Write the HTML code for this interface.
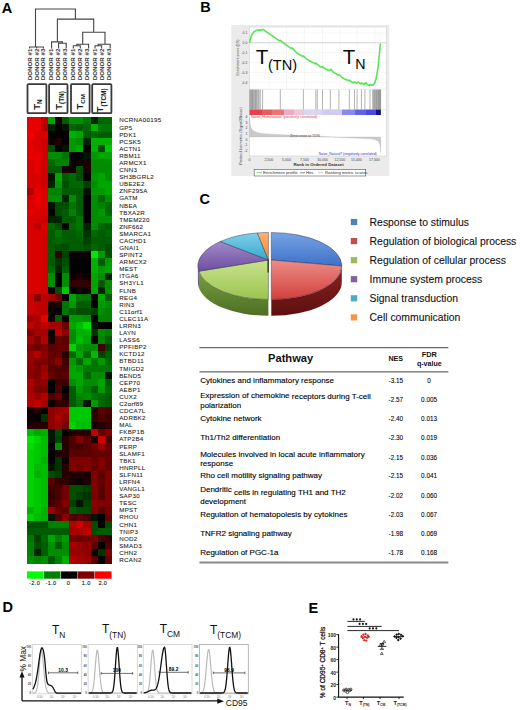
<!DOCTYPE html>
<html><head><meta charset="utf-8"><style>
html,body{margin:0;padding:0;background:#fff;width:520px;height:710px;overflow:hidden}
svg{display:block}
body{font-family:"Liberation Sans",sans-serif}
</style></head><body>
<svg width="520" height="710" viewBox="0 0 520 710" style="font-family:'Liberation Sans',sans-serif">
<rect width="520" height="710" fill="#fff"/>
<g shape-rendering="crispEdges">
<rect x="27.00" y="116.70" width="7.36" height="7.39" fill="rgb(230,0,0)"/>
<rect x="34.06" y="116.70" width="7.36" height="7.39" fill="rgb(230,0,0)"/>
<rect x="41.12" y="116.70" width="7.36" height="7.39" fill="rgb(191,0,0)"/>
<rect x="48.17" y="116.70" width="7.36" height="7.39" fill="rgb(0,165,0)"/>
<rect x="55.23" y="116.70" width="7.36" height="7.39" fill="rgb(26,0,0)"/>
<rect x="62.29" y="116.70" width="7.36" height="7.39" fill="rgb(0,92,0)"/>
<rect x="69.35" y="116.70" width="7.36" height="7.39" fill="rgb(0,141,0)"/>
<rect x="76.41" y="116.70" width="7.36" height="7.39" fill="rgb(0,141,0)"/>
<rect x="83.47" y="116.70" width="7.36" height="7.39" fill="rgb(0,117,0)"/>
<rect x="90.53" y="116.70" width="7.36" height="7.39" fill="rgb(0,36,0)"/>
<rect x="97.58" y="116.70" width="7.36" height="7.39" fill="rgb(0,104,0)"/>
<rect x="104.64" y="116.70" width="7.36" height="7.39" fill="rgb(0,104,0)"/>
<rect x="27.00" y="123.79" width="7.36" height="7.39" fill="rgb(230,0,0)"/>
<rect x="34.06" y="123.79" width="7.36" height="7.39" fill="rgb(230,0,0)"/>
<rect x="41.12" y="123.79" width="7.36" height="7.39" fill="rgb(178,0,0)"/>
<rect x="48.17" y="123.79" width="7.36" height="7.39" fill="rgb(0,36,0)"/>
<rect x="55.23" y="123.79" width="7.36" height="7.39" fill="rgb(0,0,0)"/>
<rect x="62.29" y="123.79" width="7.36" height="7.39" fill="rgb(0,20,0)"/>
<rect x="69.35" y="123.79" width="7.36" height="7.39" fill="rgb(0,104,0)"/>
<rect x="76.41" y="123.79" width="7.36" height="7.39" fill="rgb(0,92,0)"/>
<rect x="83.47" y="123.79" width="7.36" height="7.39" fill="rgb(0,104,0)"/>
<rect x="90.53" y="123.79" width="7.36" height="7.39" fill="rgb(0,177,0)"/>
<rect x="97.58" y="123.79" width="7.36" height="7.39" fill="rgb(0,117,0)"/>
<rect x="104.64" y="123.79" width="7.36" height="7.39" fill="rgb(0,117,0)"/>
<rect x="27.00" y="130.88" width="7.36" height="7.39" fill="rgb(242,0,0)"/>
<rect x="34.06" y="130.88" width="7.36" height="7.39" fill="rgb(217,0,0)"/>
<rect x="41.12" y="130.88" width="7.36" height="7.39" fill="rgb(217,0,0)"/>
<rect x="48.17" y="130.88" width="7.36" height="7.39" fill="rgb(0,0,0)"/>
<rect x="55.23" y="130.88" width="7.36" height="7.39" fill="rgb(0,0,0)"/>
<rect x="62.29" y="130.88" width="7.36" height="7.39" fill="rgb(0,0,0)"/>
<rect x="69.35" y="130.88" width="7.36" height="7.39" fill="rgb(0,177,0)"/>
<rect x="76.41" y="130.88" width="7.36" height="7.39" fill="rgb(0,165,0)"/>
<rect x="83.47" y="130.88" width="7.36" height="7.39" fill="rgb(0,92,0)"/>
<rect x="90.53" y="130.88" width="7.36" height="7.39" fill="rgb(0,104,0)"/>
<rect x="97.58" y="130.88" width="7.36" height="7.39" fill="rgb(0,92,0)"/>
<rect x="104.64" y="130.88" width="7.36" height="7.39" fill="rgb(0,92,0)"/>
<rect x="27.00" y="137.97" width="7.36" height="7.39" fill="rgb(230,0,0)"/>
<rect x="34.06" y="137.97" width="7.36" height="7.39" fill="rgb(217,0,0)"/>
<rect x="41.12" y="137.97" width="7.36" height="7.39" fill="rgb(204,0,0)"/>
<rect x="48.17" y="137.97" width="7.36" height="7.39" fill="rgb(13,0,0)"/>
<rect x="55.23" y="137.97" width="7.36" height="7.39" fill="rgb(38,0,0)"/>
<rect x="62.29" y="137.97" width="7.36" height="7.39" fill="rgb(0,0,0)"/>
<rect x="69.35" y="137.97" width="7.36" height="7.39" fill="rgb(0,153,0)"/>
<rect x="76.41" y="137.97" width="7.36" height="7.39" fill="rgb(0,141,0)"/>
<rect x="83.47" y="137.97" width="7.36" height="7.39" fill="rgb(0,36,0)"/>
<rect x="90.53" y="137.97" width="7.36" height="7.39" fill="rgb(0,177,0)"/>
<rect x="97.58" y="137.97" width="7.36" height="7.39" fill="rgb(0,177,0)"/>
<rect x="104.64" y="137.97" width="7.36" height="7.39" fill="rgb(0,177,0)"/>
<rect x="27.00" y="145.06" width="7.36" height="7.39" fill="rgb(230,0,0)"/>
<rect x="34.06" y="145.06" width="7.36" height="7.39" fill="rgb(217,0,0)"/>
<rect x="41.12" y="145.06" width="7.36" height="7.39" fill="rgb(204,0,0)"/>
<rect x="48.17" y="145.06" width="7.36" height="7.39" fill="rgb(0,78,0)"/>
<rect x="55.23" y="145.06" width="7.36" height="7.39" fill="rgb(0,0,0)"/>
<rect x="62.29" y="145.06" width="7.36" height="7.39" fill="rgb(0,20,0)"/>
<rect x="69.35" y="145.06" width="7.36" height="7.39" fill="rgb(0,153,0)"/>
<rect x="76.41" y="145.06" width="7.36" height="7.39" fill="rgb(0,165,0)"/>
<rect x="83.47" y="145.06" width="7.36" height="7.39" fill="rgb(0,0,0)"/>
<rect x="90.53" y="145.06" width="7.36" height="7.39" fill="rgb(0,177,0)"/>
<rect x="97.58" y="145.06" width="7.36" height="7.39" fill="rgb(0,78,0)"/>
<rect x="104.64" y="145.06" width="7.36" height="7.39" fill="rgb(0,200,0)"/>
<rect x="27.00" y="152.14" width="7.36" height="7.39" fill="rgb(230,0,0)"/>
<rect x="34.06" y="152.14" width="7.36" height="7.39" fill="rgb(230,0,0)"/>
<rect x="41.12" y="152.14" width="7.36" height="7.39" fill="rgb(204,0,0)"/>
<rect x="48.17" y="152.14" width="7.36" height="7.39" fill="rgb(0,141,0)"/>
<rect x="55.23" y="152.14" width="7.36" height="7.39" fill="rgb(0,141,0)"/>
<rect x="62.29" y="152.14" width="7.36" height="7.39" fill="rgb(0,117,0)"/>
<rect x="69.35" y="152.14" width="7.36" height="7.39" fill="rgb(0,0,0)"/>
<rect x="76.41" y="152.14" width="7.36" height="7.39" fill="rgb(0,0,0)"/>
<rect x="83.47" y="152.14" width="7.36" height="7.39" fill="rgb(0,20,0)"/>
<rect x="90.53" y="152.14" width="7.36" height="7.39" fill="rgb(0,153,0)"/>
<rect x="97.58" y="152.14" width="7.36" height="7.39" fill="rgb(0,165,0)"/>
<rect x="104.64" y="152.14" width="7.36" height="7.39" fill="rgb(0,165,0)"/>
<rect x="27.00" y="159.23" width="7.36" height="7.39" fill="rgb(217,0,0)"/>
<rect x="34.06" y="159.23" width="7.36" height="7.39" fill="rgb(230,0,0)"/>
<rect x="41.12" y="159.23" width="7.36" height="7.39" fill="rgb(204,0,0)"/>
<rect x="48.17" y="159.23" width="7.36" height="7.39" fill="rgb(0,104,0)"/>
<rect x="55.23" y="159.23" width="7.36" height="7.39" fill="rgb(0,129,0)"/>
<rect x="62.29" y="159.23" width="7.36" height="7.39" fill="rgb(0,129,0)"/>
<rect x="69.35" y="159.23" width="7.36" height="7.39" fill="rgb(13,0,0)"/>
<rect x="76.41" y="159.23" width="7.36" height="7.39" fill="rgb(13,0,0)"/>
<rect x="83.47" y="159.23" width="7.36" height="7.39" fill="rgb(26,0,0)"/>
<rect x="90.53" y="159.23" width="7.36" height="7.39" fill="rgb(0,141,0)"/>
<rect x="97.58" y="159.23" width="7.36" height="7.39" fill="rgb(0,141,0)"/>
<rect x="104.64" y="159.23" width="7.36" height="7.39" fill="rgb(0,141,0)"/>
<rect x="27.00" y="166.32" width="7.36" height="7.39" fill="rgb(217,0,0)"/>
<rect x="34.06" y="166.32" width="7.36" height="7.39" fill="rgb(230,0,0)"/>
<rect x="41.12" y="166.32" width="7.36" height="7.39" fill="rgb(204,0,0)"/>
<rect x="48.17" y="166.32" width="7.36" height="7.39" fill="rgb(0,92,0)"/>
<rect x="55.23" y="166.32" width="7.36" height="7.39" fill="rgb(0,92,0)"/>
<rect x="62.29" y="166.32" width="7.36" height="7.39" fill="rgb(26,0,0)"/>
<rect x="69.35" y="166.32" width="7.36" height="7.39" fill="rgb(13,0,0)"/>
<rect x="76.41" y="166.32" width="7.36" height="7.39" fill="rgb(0,78,0)"/>
<rect x="83.47" y="166.32" width="7.36" height="7.39" fill="rgb(26,0,0)"/>
<rect x="90.53" y="166.32" width="7.36" height="7.39" fill="rgb(0,141,0)"/>
<rect x="97.58" y="166.32" width="7.36" height="7.39" fill="rgb(0,141,0)"/>
<rect x="104.64" y="166.32" width="7.36" height="7.39" fill="rgb(0,141,0)"/>
<rect x="27.00" y="173.41" width="7.36" height="7.39" fill="rgb(217,0,0)"/>
<rect x="34.06" y="173.41" width="7.36" height="7.39" fill="rgb(217,0,0)"/>
<rect x="41.12" y="173.41" width="7.36" height="7.39" fill="rgb(204,0,0)"/>
<rect x="48.17" y="173.41" width="7.36" height="7.39" fill="rgb(0,20,0)"/>
<rect x="55.23" y="173.41" width="7.36" height="7.39" fill="rgb(0,165,0)"/>
<rect x="62.29" y="173.41" width="7.36" height="7.39" fill="rgb(0,92,0)"/>
<rect x="69.35" y="173.41" width="7.36" height="7.39" fill="rgb(0,104,0)"/>
<rect x="76.41" y="173.41" width="7.36" height="7.39" fill="rgb(0,78,0)"/>
<rect x="83.47" y="173.41" width="7.36" height="7.39" fill="rgb(0,0,0)"/>
<rect x="90.53" y="173.41" width="7.36" height="7.39" fill="rgb(0,153,0)"/>
<rect x="97.58" y="173.41" width="7.36" height="7.39" fill="rgb(0,165,0)"/>
<rect x="104.64" y="173.41" width="7.36" height="7.39" fill="rgb(0,141,0)"/>
<rect x="27.00" y="180.50" width="7.36" height="7.39" fill="rgb(217,0,0)"/>
<rect x="34.06" y="180.50" width="7.36" height="7.39" fill="rgb(217,0,0)"/>
<rect x="41.12" y="180.50" width="7.36" height="7.39" fill="rgb(204,0,0)"/>
<rect x="48.17" y="180.50" width="7.36" height="7.39" fill="rgb(0,36,0)"/>
<rect x="55.23" y="180.50" width="7.36" height="7.39" fill="rgb(0,153,0)"/>
<rect x="62.29" y="180.50" width="7.36" height="7.39" fill="rgb(0,78,0)"/>
<rect x="69.35" y="180.50" width="7.36" height="7.39" fill="rgb(0,104,0)"/>
<rect x="76.41" y="180.50" width="7.36" height="7.39" fill="rgb(0,104,0)"/>
<rect x="83.47" y="180.50" width="7.36" height="7.39" fill="rgb(0,65,0)"/>
<rect x="90.53" y="180.50" width="7.36" height="7.39" fill="rgb(0,141,0)"/>
<rect x="97.58" y="180.50" width="7.36" height="7.39" fill="rgb(0,165,0)"/>
<rect x="104.64" y="180.50" width="7.36" height="7.39" fill="rgb(0,165,0)"/>
<rect x="27.00" y="187.59" width="7.36" height="7.39" fill="rgb(166,0,0)"/>
<rect x="34.06" y="187.59" width="7.36" height="7.39" fill="rgb(230,0,0)"/>
<rect x="41.12" y="187.59" width="7.36" height="7.39" fill="rgb(217,0,0)"/>
<rect x="48.17" y="187.59" width="7.36" height="7.39" fill="rgb(0,129,0)"/>
<rect x="55.23" y="187.59" width="7.36" height="7.39" fill="rgb(0,129,0)"/>
<rect x="62.29" y="187.59" width="7.36" height="7.39" fill="rgb(0,92,0)"/>
<rect x="69.35" y="187.59" width="7.36" height="7.39" fill="rgb(0,92,0)"/>
<rect x="76.41" y="187.59" width="7.36" height="7.39" fill="rgb(0,92,0)"/>
<rect x="83.47" y="187.59" width="7.36" height="7.39" fill="rgb(0,20,0)"/>
<rect x="90.53" y="187.59" width="7.36" height="7.39" fill="rgb(0,153,0)"/>
<rect x="97.58" y="187.59" width="7.36" height="7.39" fill="rgb(0,153,0)"/>
<rect x="104.64" y="187.59" width="7.36" height="7.39" fill="rgb(0,165,0)"/>
<rect x="27.00" y="194.68" width="7.36" height="7.39" fill="rgb(217,0,0)"/>
<rect x="34.06" y="194.68" width="7.36" height="7.39" fill="rgb(230,0,0)"/>
<rect x="41.12" y="194.68" width="7.36" height="7.39" fill="rgb(217,0,0)"/>
<rect x="48.17" y="194.68" width="7.36" height="7.39" fill="rgb(0,141,0)"/>
<rect x="55.23" y="194.68" width="7.36" height="7.39" fill="rgb(0,141,0)"/>
<rect x="62.29" y="194.68" width="7.36" height="7.39" fill="rgb(0,36,0)"/>
<rect x="69.35" y="194.68" width="7.36" height="7.39" fill="rgb(0,141,0)"/>
<rect x="76.41" y="194.68" width="7.36" height="7.39" fill="rgb(0,92,0)"/>
<rect x="83.47" y="194.68" width="7.36" height="7.39" fill="rgb(0,0,0)"/>
<rect x="90.53" y="194.68" width="7.36" height="7.39" fill="rgb(0,141,0)"/>
<rect x="97.58" y="194.68" width="7.36" height="7.39" fill="rgb(0,104,0)"/>
<rect x="104.64" y="194.68" width="7.36" height="7.39" fill="rgb(0,141,0)"/>
<rect x="27.00" y="201.77" width="7.36" height="7.39" fill="rgb(217,0,0)"/>
<rect x="34.06" y="201.77" width="7.36" height="7.39" fill="rgb(230,0,0)"/>
<rect x="41.12" y="201.77" width="7.36" height="7.39" fill="rgb(217,0,0)"/>
<rect x="48.17" y="201.77" width="7.36" height="7.39" fill="rgb(0,20,0)"/>
<rect x="55.23" y="201.77" width="7.36" height="7.39" fill="rgb(0,78,0)"/>
<rect x="62.29" y="201.77" width="7.36" height="7.39" fill="rgb(0,78,0)"/>
<rect x="69.35" y="201.77" width="7.36" height="7.39" fill="rgb(0,117,0)"/>
<rect x="76.41" y="201.77" width="7.36" height="7.39" fill="rgb(0,92,0)"/>
<rect x="83.47" y="201.77" width="7.36" height="7.39" fill="rgb(0,0,0)"/>
<rect x="90.53" y="201.77" width="7.36" height="7.39" fill="rgb(0,141,0)"/>
<rect x="97.58" y="201.77" width="7.36" height="7.39" fill="rgb(0,129,0)"/>
<rect x="104.64" y="201.77" width="7.36" height="7.39" fill="rgb(0,104,0)"/>
<rect x="27.00" y="208.86" width="7.36" height="7.39" fill="rgb(230,0,0)"/>
<rect x="34.06" y="208.86" width="7.36" height="7.39" fill="rgb(217,0,0)"/>
<rect x="41.12" y="208.86" width="7.36" height="7.39" fill="rgb(217,0,0)"/>
<rect x="48.17" y="208.86" width="7.36" height="7.39" fill="rgb(0,0,0)"/>
<rect x="55.23" y="208.86" width="7.36" height="7.39" fill="rgb(0,78,0)"/>
<rect x="62.29" y="208.86" width="7.36" height="7.39" fill="rgb(0,92,0)"/>
<rect x="69.35" y="208.86" width="7.36" height="7.39" fill="rgb(0,129,0)"/>
<rect x="76.41" y="208.86" width="7.36" height="7.39" fill="rgb(0,92,0)"/>
<rect x="83.47" y="208.86" width="7.36" height="7.39" fill="rgb(0,0,0)"/>
<rect x="90.53" y="208.86" width="7.36" height="7.39" fill="rgb(0,141,0)"/>
<rect x="97.58" y="208.86" width="7.36" height="7.39" fill="rgb(0,153,0)"/>
<rect x="104.64" y="208.86" width="7.36" height="7.39" fill="rgb(0,104,0)"/>
<rect x="27.00" y="215.94" width="7.36" height="7.39" fill="rgb(217,0,0)"/>
<rect x="34.06" y="215.94" width="7.36" height="7.39" fill="rgb(217,0,0)"/>
<rect x="41.12" y="215.94" width="7.36" height="7.39" fill="rgb(204,0,0)"/>
<rect x="48.17" y="215.94" width="7.36" height="7.39" fill="rgb(0,36,0)"/>
<rect x="55.23" y="215.94" width="7.36" height="7.39" fill="rgb(0,36,0)"/>
<rect x="62.29" y="215.94" width="7.36" height="7.39" fill="rgb(0,92,0)"/>
<rect x="69.35" y="215.94" width="7.36" height="7.39" fill="rgb(0,92,0)"/>
<rect x="76.41" y="215.94" width="7.36" height="7.39" fill="rgb(0,117,0)"/>
<rect x="83.47" y="215.94" width="7.36" height="7.39" fill="rgb(0,0,0)"/>
<rect x="90.53" y="215.94" width="7.36" height="7.39" fill="rgb(0,141,0)"/>
<rect x="97.58" y="215.94" width="7.36" height="7.39" fill="rgb(0,141,0)"/>
<rect x="104.64" y="215.94" width="7.36" height="7.39" fill="rgb(0,141,0)"/>
<rect x="27.00" y="223.03" width="7.36" height="7.39" fill="rgb(217,0,0)"/>
<rect x="34.06" y="223.03" width="7.36" height="7.39" fill="rgb(191,0,0)"/>
<rect x="41.12" y="223.03" width="7.36" height="7.39" fill="rgb(217,0,0)"/>
<rect x="48.17" y="223.03" width="7.36" height="7.39" fill="rgb(0,104,0)"/>
<rect x="55.23" y="223.03" width="7.36" height="7.39" fill="rgb(0,78,0)"/>
<rect x="62.29" y="223.03" width="7.36" height="7.39" fill="rgb(0,0,0)"/>
<rect x="69.35" y="223.03" width="7.36" height="7.39" fill="rgb(0,104,0)"/>
<rect x="76.41" y="223.03" width="7.36" height="7.39" fill="rgb(0,117,0)"/>
<rect x="83.47" y="223.03" width="7.36" height="7.39" fill="rgb(0,36,0)"/>
<rect x="90.53" y="223.03" width="7.36" height="7.39" fill="rgb(0,141,0)"/>
<rect x="97.58" y="223.03" width="7.36" height="7.39" fill="rgb(0,104,0)"/>
<rect x="104.64" y="223.03" width="7.36" height="7.39" fill="rgb(0,92,0)"/>
<rect x="27.00" y="230.12" width="7.36" height="7.39" fill="rgb(217,0,0)"/>
<rect x="34.06" y="230.12" width="7.36" height="7.39" fill="rgb(217,0,0)"/>
<rect x="41.12" y="230.12" width="7.36" height="7.39" fill="rgb(204,0,0)"/>
<rect x="48.17" y="230.12" width="7.36" height="7.39" fill="rgb(0,92,0)"/>
<rect x="55.23" y="230.12" width="7.36" height="7.39" fill="rgb(0,117,0)"/>
<rect x="62.29" y="230.12" width="7.36" height="7.39" fill="rgb(0,92,0)"/>
<rect x="69.35" y="230.12" width="7.36" height="7.39" fill="rgb(0,92,0)"/>
<rect x="76.41" y="230.12" width="7.36" height="7.39" fill="rgb(0,104,0)"/>
<rect x="83.47" y="230.12" width="7.36" height="7.39" fill="rgb(0,51,0)"/>
<rect x="90.53" y="230.12" width="7.36" height="7.39" fill="rgb(0,104,0)"/>
<rect x="97.58" y="230.12" width="7.36" height="7.39" fill="rgb(0,92,0)"/>
<rect x="104.64" y="230.12" width="7.36" height="7.39" fill="rgb(0,104,0)"/>
<rect x="27.00" y="237.21" width="7.36" height="7.39" fill="rgb(217,0,0)"/>
<rect x="34.06" y="237.21" width="7.36" height="7.39" fill="rgb(217,0,0)"/>
<rect x="41.12" y="237.21" width="7.36" height="7.39" fill="rgb(204,0,0)"/>
<rect x="48.17" y="237.21" width="7.36" height="7.39" fill="rgb(0,92,0)"/>
<rect x="55.23" y="237.21" width="7.36" height="7.39" fill="rgb(0,104,0)"/>
<rect x="62.29" y="237.21" width="7.36" height="7.39" fill="rgb(0,92,0)"/>
<rect x="69.35" y="237.21" width="7.36" height="7.39" fill="rgb(0,92,0)"/>
<rect x="76.41" y="237.21" width="7.36" height="7.39" fill="rgb(0,92,0)"/>
<rect x="83.47" y="237.21" width="7.36" height="7.39" fill="rgb(0,65,0)"/>
<rect x="90.53" y="237.21" width="7.36" height="7.39" fill="rgb(0,92,0)"/>
<rect x="97.58" y="237.21" width="7.36" height="7.39" fill="rgb(0,92,0)"/>
<rect x="104.64" y="237.21" width="7.36" height="7.39" fill="rgb(0,92,0)"/>
<rect x="27.00" y="244.30" width="7.36" height="7.39" fill="rgb(217,0,0)"/>
<rect x="34.06" y="244.30" width="7.36" height="7.39" fill="rgb(217,0,0)"/>
<rect x="41.12" y="244.30" width="7.36" height="7.39" fill="rgb(204,0,0)"/>
<rect x="48.17" y="244.30" width="7.36" height="7.39" fill="rgb(0,92,0)"/>
<rect x="55.23" y="244.30" width="7.36" height="7.39" fill="rgb(0,78,0)"/>
<rect x="62.29" y="244.30" width="7.36" height="7.39" fill="rgb(0,78,0)"/>
<rect x="69.35" y="244.30" width="7.36" height="7.39" fill="rgb(0,92,0)"/>
<rect x="76.41" y="244.30" width="7.36" height="7.39" fill="rgb(0,92,0)"/>
<rect x="83.47" y="244.30" width="7.36" height="7.39" fill="rgb(0,78,0)"/>
<rect x="90.53" y="244.30" width="7.36" height="7.39" fill="rgb(0,104,0)"/>
<rect x="97.58" y="244.30" width="7.36" height="7.39" fill="rgb(0,92,0)"/>
<rect x="104.64" y="244.30" width="7.36" height="7.39" fill="rgb(0,78,0)"/>
<rect x="27.00" y="251.39" width="7.36" height="7.39" fill="rgb(217,0,0)"/>
<rect x="34.06" y="251.39" width="7.36" height="7.39" fill="rgb(217,0,0)"/>
<rect x="41.12" y="251.39" width="7.36" height="7.39" fill="rgb(204,0,0)"/>
<rect x="48.17" y="251.39" width="7.36" height="7.39" fill="rgb(0,92,0)"/>
<rect x="55.23" y="251.39" width="7.36" height="7.39" fill="rgb(51,0,0)"/>
<rect x="62.29" y="251.39" width="7.36" height="7.39" fill="rgb(0,65,0)"/>
<rect x="69.35" y="251.39" width="7.36" height="7.39" fill="rgb(13,0,0)"/>
<rect x="76.41" y="251.39" width="7.36" height="7.39" fill="rgb(13,0,0)"/>
<rect x="83.47" y="251.39" width="7.36" height="7.39" fill="rgb(13,0,0)"/>
<rect x="90.53" y="251.39" width="7.36" height="7.39" fill="rgb(0,233,0)"/>
<rect x="97.58" y="251.39" width="7.36" height="7.39" fill="rgb(0,153,0)"/>
<rect x="104.64" y="251.39" width="7.36" height="7.39" fill="rgb(0,78,0)"/>
<rect x="27.00" y="258.48" width="7.36" height="7.39" fill="rgb(217,0,0)"/>
<rect x="34.06" y="258.48" width="7.36" height="7.39" fill="rgb(217,0,0)"/>
<rect x="41.12" y="258.48" width="7.36" height="7.39" fill="rgb(204,0,0)"/>
<rect x="48.17" y="258.48" width="7.36" height="7.39" fill="rgb(0,92,0)"/>
<rect x="55.23" y="258.48" width="7.36" height="7.39" fill="rgb(0,51,0)"/>
<rect x="62.29" y="258.48" width="7.36" height="7.39" fill="rgb(0,78,0)"/>
<rect x="69.35" y="258.48" width="7.36" height="7.39" fill="rgb(0,0,0)"/>
<rect x="76.41" y="258.48" width="7.36" height="7.39" fill="rgb(0,0,0)"/>
<rect x="83.47" y="258.48" width="7.36" height="7.39" fill="rgb(0,0,0)"/>
<rect x="90.53" y="258.48" width="7.36" height="7.39" fill="rgb(0,177,0)"/>
<rect x="97.58" y="258.48" width="7.36" height="7.39" fill="rgb(0,92,0)"/>
<rect x="104.64" y="258.48" width="7.36" height="7.39" fill="rgb(0,153,0)"/>
<rect x="27.00" y="265.57" width="7.36" height="7.39" fill="rgb(217,0,0)"/>
<rect x="34.06" y="265.57" width="7.36" height="7.39" fill="rgb(217,0,0)"/>
<rect x="41.12" y="265.57" width="7.36" height="7.39" fill="rgb(204,0,0)"/>
<rect x="48.17" y="265.57" width="7.36" height="7.39" fill="rgb(0,104,0)"/>
<rect x="55.23" y="265.57" width="7.36" height="7.39" fill="rgb(0,36,0)"/>
<rect x="62.29" y="265.57" width="7.36" height="7.39" fill="rgb(0,92,0)"/>
<rect x="69.35" y="265.57" width="7.36" height="7.39" fill="rgb(0,0,0)"/>
<rect x="76.41" y="265.57" width="7.36" height="7.39" fill="rgb(0,0,0)"/>
<rect x="83.47" y="265.57" width="7.36" height="7.39" fill="rgb(0,0,0)"/>
<rect x="90.53" y="265.57" width="7.36" height="7.39" fill="rgb(0,177,0)"/>
<rect x="97.58" y="265.57" width="7.36" height="7.39" fill="rgb(0,153,0)"/>
<rect x="104.64" y="265.57" width="7.36" height="7.39" fill="rgb(0,165,0)"/>
<rect x="27.00" y="272.66" width="7.36" height="7.39" fill="rgb(217,0,0)"/>
<rect x="34.06" y="272.66" width="7.36" height="7.39" fill="rgb(217,0,0)"/>
<rect x="41.12" y="272.66" width="7.36" height="7.39" fill="rgb(204,0,0)"/>
<rect x="48.17" y="272.66" width="7.36" height="7.39" fill="rgb(0,141,0)"/>
<rect x="55.23" y="272.66" width="7.36" height="7.39" fill="rgb(0,0,0)"/>
<rect x="62.29" y="272.66" width="7.36" height="7.39" fill="rgb(0,141,0)"/>
<rect x="69.35" y="272.66" width="7.36" height="7.39" fill="rgb(13,0,0)"/>
<rect x="76.41" y="272.66" width="7.36" height="7.39" fill="rgb(26,0,0)"/>
<rect x="83.47" y="272.66" width="7.36" height="7.39" fill="rgb(13,0,0)"/>
<rect x="90.53" y="272.66" width="7.36" height="7.39" fill="rgb(0,165,0)"/>
<rect x="97.58" y="272.66" width="7.36" height="7.39" fill="rgb(0,141,0)"/>
<rect x="104.64" y="272.66" width="7.36" height="7.39" fill="rgb(0,36,0)"/>
<rect x="27.00" y="279.74" width="7.36" height="7.39" fill="rgb(217,0,0)"/>
<rect x="34.06" y="279.74" width="7.36" height="7.39" fill="rgb(217,0,0)"/>
<rect x="41.12" y="279.74" width="7.36" height="7.39" fill="rgb(204,0,0)"/>
<rect x="48.17" y="279.74" width="7.36" height="7.39" fill="rgb(0,141,0)"/>
<rect x="55.23" y="279.74" width="7.36" height="7.39" fill="rgb(0,0,0)"/>
<rect x="62.29" y="279.74" width="7.36" height="7.39" fill="rgb(0,141,0)"/>
<rect x="69.35" y="279.74" width="7.36" height="7.39" fill="rgb(51,0,0)"/>
<rect x="76.41" y="279.74" width="7.36" height="7.39" fill="rgb(51,0,0)"/>
<rect x="83.47" y="279.74" width="7.36" height="7.39" fill="rgb(51,0,0)"/>
<rect x="90.53" y="279.74" width="7.36" height="7.39" fill="rgb(0,165,0)"/>
<rect x="97.58" y="279.74" width="7.36" height="7.39" fill="rgb(0,92,0)"/>
<rect x="104.64" y="279.74" width="7.36" height="7.39" fill="rgb(0,141,0)"/>
<rect x="27.00" y="286.83" width="7.36" height="7.39" fill="rgb(217,0,0)"/>
<rect x="34.06" y="286.83" width="7.36" height="7.39" fill="rgb(217,0,0)"/>
<rect x="41.12" y="286.83" width="7.36" height="7.39" fill="rgb(204,0,0)"/>
<rect x="48.17" y="286.83" width="7.36" height="7.39" fill="rgb(13,0,0)"/>
<rect x="55.23" y="286.83" width="7.36" height="7.39" fill="rgb(0,78,0)"/>
<rect x="62.29" y="286.83" width="7.36" height="7.39" fill="rgb(0,200,0)"/>
<rect x="69.35" y="286.83" width="7.36" height="7.39" fill="rgb(0,0,0)"/>
<rect x="76.41" y="286.83" width="7.36" height="7.39" fill="rgb(13,0,0)"/>
<rect x="83.47" y="286.83" width="7.36" height="7.39" fill="rgb(13,0,0)"/>
<rect x="90.53" y="286.83" width="7.36" height="7.39" fill="rgb(0,165,0)"/>
<rect x="97.58" y="286.83" width="7.36" height="7.39" fill="rgb(0,36,0)"/>
<rect x="104.64" y="286.83" width="7.36" height="7.39" fill="rgb(0,141,0)"/>
<rect x="27.00" y="293.92" width="7.36" height="7.39" fill="rgb(204,0,0)"/>
<rect x="34.06" y="293.92" width="7.36" height="7.39" fill="rgb(128,0,0)"/>
<rect x="41.12" y="293.92" width="7.36" height="7.39" fill="rgb(191,0,0)"/>
<rect x="48.17" y="293.92" width="7.36" height="7.39" fill="rgb(166,0,0)"/>
<rect x="55.23" y="293.92" width="7.36" height="7.39" fill="rgb(115,0,0)"/>
<rect x="62.29" y="293.92" width="7.36" height="7.39" fill="rgb(0,0,0)"/>
<rect x="69.35" y="293.92" width="7.36" height="7.39" fill="rgb(0,165,0)"/>
<rect x="76.41" y="293.92" width="7.36" height="7.39" fill="rgb(0,117,0)"/>
<rect x="83.47" y="293.92" width="7.36" height="7.39" fill="rgb(0,117,0)"/>
<rect x="90.53" y="293.92" width="7.36" height="7.39" fill="rgb(13,0,0)"/>
<rect x="97.58" y="293.92" width="7.36" height="7.39" fill="rgb(0,165,0)"/>
<rect x="104.64" y="293.92" width="7.36" height="7.39" fill="rgb(0,92,0)"/>
<rect x="27.00" y="301.01" width="7.36" height="7.39" fill="rgb(204,0,0)"/>
<rect x="34.06" y="301.01" width="7.36" height="7.39" fill="rgb(191,0,0)"/>
<rect x="41.12" y="301.01" width="7.36" height="7.39" fill="rgb(191,0,0)"/>
<rect x="48.17" y="301.01" width="7.36" height="7.39" fill="rgb(13,0,0)"/>
<rect x="55.23" y="301.01" width="7.36" height="7.39" fill="rgb(38,0,0)"/>
<rect x="62.29" y="301.01" width="7.36" height="7.39" fill="rgb(0,117,0)"/>
<rect x="69.35" y="301.01" width="7.36" height="7.39" fill="rgb(0,153,0)"/>
<rect x="76.41" y="301.01" width="7.36" height="7.39" fill="rgb(0,92,0)"/>
<rect x="83.47" y="301.01" width="7.36" height="7.39" fill="rgb(0,92,0)"/>
<rect x="90.53" y="301.01" width="7.36" height="7.39" fill="rgb(0,0,0)"/>
<rect x="97.58" y="301.01" width="7.36" height="7.39" fill="rgb(0,153,0)"/>
<rect x="104.64" y="301.01" width="7.36" height="7.39" fill="rgb(0,141,0)"/>
<rect x="27.00" y="308.10" width="7.36" height="7.39" fill="rgb(204,0,0)"/>
<rect x="34.06" y="308.10" width="7.36" height="7.39" fill="rgb(191,0,0)"/>
<rect x="41.12" y="308.10" width="7.36" height="7.39" fill="rgb(191,0,0)"/>
<rect x="48.17" y="308.10" width="7.36" height="7.39" fill="rgb(13,0,0)"/>
<rect x="55.23" y="308.10" width="7.36" height="7.39" fill="rgb(0,0,0)"/>
<rect x="62.29" y="308.10" width="7.36" height="7.39" fill="rgb(0,117,0)"/>
<rect x="69.35" y="308.10" width="7.36" height="7.39" fill="rgb(0,92,0)"/>
<rect x="76.41" y="308.10" width="7.36" height="7.39" fill="rgb(0,78,0)"/>
<rect x="83.47" y="308.10" width="7.36" height="7.39" fill="rgb(0,78,0)"/>
<rect x="90.53" y="308.10" width="7.36" height="7.39" fill="rgb(0,65,0)"/>
<rect x="97.58" y="308.10" width="7.36" height="7.39" fill="rgb(0,141,0)"/>
<rect x="104.64" y="308.10" width="7.36" height="7.39" fill="rgb(0,129,0)"/>
<rect x="27.00" y="315.19" width="7.36" height="7.39" fill="rgb(153,0,0)"/>
<rect x="34.06" y="315.19" width="7.36" height="7.39" fill="rgb(178,0,0)"/>
<rect x="41.12" y="315.19" width="7.36" height="7.39" fill="rgb(230,0,0)"/>
<rect x="48.17" y="315.19" width="7.36" height="7.39" fill="rgb(13,0,0)"/>
<rect x="55.23" y="315.19" width="7.36" height="7.39" fill="rgb(0,92,0)"/>
<rect x="62.29" y="315.19" width="7.36" height="7.39" fill="rgb(0,0,0)"/>
<rect x="69.35" y="315.19" width="7.36" height="7.39" fill="rgb(0,153,0)"/>
<rect x="76.41" y="315.19" width="7.36" height="7.39" fill="rgb(0,153,0)"/>
<rect x="83.47" y="315.19" width="7.36" height="7.39" fill="rgb(0,141,0)"/>
<rect x="90.53" y="315.19" width="7.36" height="7.39" fill="rgb(0,0,0)"/>
<rect x="97.58" y="315.19" width="7.36" height="7.39" fill="rgb(0,129,0)"/>
<rect x="104.64" y="315.19" width="7.36" height="7.39" fill="rgb(0,129,0)"/>
<rect x="27.00" y="322.28" width="7.36" height="7.39" fill="rgb(191,0,0)"/>
<rect x="34.06" y="322.28" width="7.36" height="7.39" fill="rgb(166,0,0)"/>
<rect x="41.12" y="322.28" width="7.36" height="7.39" fill="rgb(191,0,0)"/>
<rect x="48.17" y="322.28" width="7.36" height="7.39" fill="rgb(166,0,0)"/>
<rect x="55.23" y="322.28" width="7.36" height="7.39" fill="rgb(166,0,0)"/>
<rect x="62.29" y="322.28" width="7.36" height="7.39" fill="rgb(102,0,0)"/>
<rect x="69.35" y="322.28" width="7.36" height="7.39" fill="rgb(0,165,0)"/>
<rect x="76.41" y="322.28" width="7.36" height="7.39" fill="rgb(0,188,0)"/>
<rect x="83.47" y="322.28" width="7.36" height="7.39" fill="rgb(0,222,0)"/>
<rect x="90.53" y="322.28" width="7.36" height="7.39" fill="rgb(0,20,0)"/>
<rect x="97.58" y="322.28" width="7.36" height="7.39" fill="rgb(0,0,0)"/>
<rect x="104.64" y="322.28" width="7.36" height="7.39" fill="rgb(0,0,0)"/>
<rect x="27.00" y="329.37" width="7.36" height="7.39" fill="rgb(128,0,0)"/>
<rect x="34.06" y="329.37" width="7.36" height="7.39" fill="rgb(166,0,0)"/>
<rect x="41.12" y="329.37" width="7.36" height="7.39" fill="rgb(166,0,0)"/>
<rect x="48.17" y="329.37" width="7.36" height="7.39" fill="rgb(13,0,0)"/>
<rect x="55.23" y="329.37" width="7.36" height="7.39" fill="rgb(191,0,0)"/>
<rect x="62.29" y="329.37" width="7.36" height="7.39" fill="rgb(140,0,0)"/>
<rect x="69.35" y="329.37" width="7.36" height="7.39" fill="rgb(0,141,0)"/>
<rect x="76.41" y="329.37" width="7.36" height="7.39" fill="rgb(0,177,0)"/>
<rect x="83.47" y="329.37" width="7.36" height="7.39" fill="rgb(0,177,0)"/>
<rect x="90.53" y="329.37" width="7.36" height="7.39" fill="rgb(0,51,0)"/>
<rect x="97.58" y="329.37" width="7.36" height="7.39" fill="rgb(0,141,0)"/>
<rect x="104.64" y="329.37" width="7.36" height="7.39" fill="rgb(0,129,0)"/>
<rect x="27.00" y="336.46" width="7.36" height="7.39" fill="rgb(166,0,0)"/>
<rect x="34.06" y="336.46" width="7.36" height="7.39" fill="rgb(128,0,0)"/>
<rect x="41.12" y="336.46" width="7.36" height="7.39" fill="rgb(178,0,0)"/>
<rect x="48.17" y="336.46" width="7.36" height="7.39" fill="rgb(26,0,0)"/>
<rect x="55.23" y="336.46" width="7.36" height="7.39" fill="rgb(102,0,0)"/>
<rect x="62.29" y="336.46" width="7.36" height="7.39" fill="rgb(89,0,0)"/>
<rect x="69.35" y="336.46" width="7.36" height="7.39" fill="rgb(0,141,0)"/>
<rect x="76.41" y="336.46" width="7.36" height="7.39" fill="rgb(0,188,0)"/>
<rect x="83.47" y="336.46" width="7.36" height="7.39" fill="rgb(0,165,0)"/>
<rect x="90.53" y="336.46" width="7.36" height="7.39" fill="rgb(0,0,0)"/>
<rect x="97.58" y="336.46" width="7.36" height="7.39" fill="rgb(0,129,0)"/>
<rect x="104.64" y="336.46" width="7.36" height="7.39" fill="rgb(0,92,0)"/>
<rect x="27.00" y="343.54" width="7.36" height="7.39" fill="rgb(128,0,0)"/>
<rect x="34.06" y="343.54" width="7.36" height="7.39" fill="rgb(115,0,0)"/>
<rect x="41.12" y="343.54" width="7.36" height="7.39" fill="rgb(128,0,0)"/>
<rect x="48.17" y="343.54" width="7.36" height="7.39" fill="rgb(89,0,0)"/>
<rect x="55.23" y="343.54" width="7.36" height="7.39" fill="rgb(102,0,0)"/>
<rect x="62.29" y="343.54" width="7.36" height="7.39" fill="rgb(102,0,0)"/>
<rect x="69.35" y="343.54" width="7.36" height="7.39" fill="rgb(0,211,0)"/>
<rect x="76.41" y="343.54" width="7.36" height="7.39" fill="rgb(0,153,0)"/>
<rect x="83.47" y="343.54" width="7.36" height="7.39" fill="rgb(0,141,0)"/>
<rect x="90.53" y="343.54" width="7.36" height="7.39" fill="rgb(0,141,0)"/>
<rect x="97.58" y="343.54" width="7.36" height="7.39" fill="rgb(64,0,0)"/>
<rect x="104.64" y="343.54" width="7.36" height="7.39" fill="rgb(0,65,0)"/>
<rect x="27.00" y="350.63" width="7.36" height="7.39" fill="rgb(153,0,0)"/>
<rect x="34.06" y="350.63" width="7.36" height="7.39" fill="rgb(178,0,0)"/>
<rect x="41.12" y="350.63" width="7.36" height="7.39" fill="rgb(140,0,0)"/>
<rect x="48.17" y="350.63" width="7.36" height="7.39" fill="rgb(102,0,0)"/>
<rect x="55.23" y="350.63" width="7.36" height="7.39" fill="rgb(102,0,0)"/>
<rect x="62.29" y="350.63" width="7.36" height="7.39" fill="rgb(38,0,0)"/>
<rect x="69.35" y="350.63" width="7.36" height="7.39" fill="rgb(0,104,0)"/>
<rect x="76.41" y="350.63" width="7.36" height="7.39" fill="rgb(0,165,0)"/>
<rect x="83.47" y="350.63" width="7.36" height="7.39" fill="rgb(0,104,0)"/>
<rect x="90.53" y="350.63" width="7.36" height="7.39" fill="rgb(0,188,0)"/>
<rect x="97.58" y="350.63" width="7.36" height="7.39" fill="rgb(0,65,0)"/>
<rect x="104.64" y="350.63" width="7.36" height="7.39" fill="rgb(0,92,0)"/>
<rect x="27.00" y="357.72" width="7.36" height="7.39" fill="rgb(153,0,0)"/>
<rect x="34.06" y="357.72" width="7.36" height="7.39" fill="rgb(128,0,0)"/>
<rect x="41.12" y="357.72" width="7.36" height="7.39" fill="rgb(128,0,0)"/>
<rect x="48.17" y="357.72" width="7.36" height="7.39" fill="rgb(102,0,0)"/>
<rect x="55.23" y="357.72" width="7.36" height="7.39" fill="rgb(140,0,0)"/>
<rect x="62.29" y="357.72" width="7.36" height="7.39" fill="rgb(64,0,0)"/>
<rect x="69.35" y="357.72" width="7.36" height="7.39" fill="rgb(0,153,0)"/>
<rect x="76.41" y="357.72" width="7.36" height="7.39" fill="rgb(0,104,0)"/>
<rect x="83.47" y="357.72" width="7.36" height="7.39" fill="rgb(0,165,0)"/>
<rect x="90.53" y="357.72" width="7.36" height="7.39" fill="rgb(0,117,0)"/>
<rect x="97.58" y="357.72" width="7.36" height="7.39" fill="rgb(0,153,0)"/>
<rect x="104.64" y="357.72" width="7.36" height="7.39" fill="rgb(0,104,0)"/>
<rect x="27.00" y="364.81" width="7.36" height="7.39" fill="rgb(140,0,0)"/>
<rect x="34.06" y="364.81" width="7.36" height="7.39" fill="rgb(128,0,0)"/>
<rect x="41.12" y="364.81" width="7.36" height="7.39" fill="rgb(153,0,0)"/>
<rect x="48.17" y="364.81" width="7.36" height="7.39" fill="rgb(89,0,0)"/>
<rect x="55.23" y="364.81" width="7.36" height="7.39" fill="rgb(76,0,0)"/>
<rect x="62.29" y="364.81" width="7.36" height="7.39" fill="rgb(76,0,0)"/>
<rect x="69.35" y="364.81" width="7.36" height="7.39" fill="rgb(0,165,0)"/>
<rect x="76.41" y="364.81" width="7.36" height="7.39" fill="rgb(0,153,0)"/>
<rect x="83.47" y="364.81" width="7.36" height="7.39" fill="rgb(0,117,0)"/>
<rect x="90.53" y="364.81" width="7.36" height="7.39" fill="rgb(0,117,0)"/>
<rect x="97.58" y="364.81" width="7.36" height="7.39" fill="rgb(0,117,0)"/>
<rect x="104.64" y="364.81" width="7.36" height="7.39" fill="rgb(0,117,0)"/>
<rect x="27.00" y="371.90" width="7.36" height="7.39" fill="rgb(140,0,0)"/>
<rect x="34.06" y="371.90" width="7.36" height="7.39" fill="rgb(128,0,0)"/>
<rect x="41.12" y="371.90" width="7.36" height="7.39" fill="rgb(166,0,0)"/>
<rect x="48.17" y="371.90" width="7.36" height="7.39" fill="rgb(102,0,0)"/>
<rect x="55.23" y="371.90" width="7.36" height="7.39" fill="rgb(76,0,0)"/>
<rect x="62.29" y="371.90" width="7.36" height="7.39" fill="rgb(89,0,0)"/>
<rect x="69.35" y="371.90" width="7.36" height="7.39" fill="rgb(0,165,0)"/>
<rect x="76.41" y="371.90" width="7.36" height="7.39" fill="rgb(0,165,0)"/>
<rect x="83.47" y="371.90" width="7.36" height="7.39" fill="rgb(0,104,0)"/>
<rect x="90.53" y="371.90" width="7.36" height="7.39" fill="rgb(0,141,0)"/>
<rect x="97.58" y="371.90" width="7.36" height="7.39" fill="rgb(0,141,0)"/>
<rect x="104.64" y="371.90" width="7.36" height="7.39" fill="rgb(0,20,0)"/>
<rect x="27.00" y="378.99" width="7.36" height="7.39" fill="rgb(178,0,0)"/>
<rect x="34.06" y="378.99" width="7.36" height="7.39" fill="rgb(140,0,0)"/>
<rect x="41.12" y="378.99" width="7.36" height="7.39" fill="rgb(140,0,0)"/>
<rect x="48.17" y="378.99" width="7.36" height="7.39" fill="rgb(0,0,0)"/>
<rect x="55.23" y="378.99" width="7.36" height="7.39" fill="rgb(64,0,0)"/>
<rect x="62.29" y="378.99" width="7.36" height="7.39" fill="rgb(64,0,0)"/>
<rect x="69.35" y="378.99" width="7.36" height="7.39" fill="rgb(0,141,0)"/>
<rect x="76.41" y="378.99" width="7.36" height="7.39" fill="rgb(0,165,0)"/>
<rect x="83.47" y="378.99" width="7.36" height="7.39" fill="rgb(0,141,0)"/>
<rect x="90.53" y="378.99" width="7.36" height="7.39" fill="rgb(0,141,0)"/>
<rect x="97.58" y="378.99" width="7.36" height="7.39" fill="rgb(0,165,0)"/>
<rect x="104.64" y="378.99" width="7.36" height="7.39" fill="rgb(0,92,0)"/>
<rect x="27.00" y="386.08" width="7.36" height="7.39" fill="rgb(166,0,0)"/>
<rect x="34.06" y="386.08" width="7.36" height="7.39" fill="rgb(128,0,0)"/>
<rect x="41.12" y="386.08" width="7.36" height="7.39" fill="rgb(128,0,0)"/>
<rect x="48.17" y="386.08" width="7.36" height="7.39" fill="rgb(0,0,0)"/>
<rect x="55.23" y="386.08" width="7.36" height="7.39" fill="rgb(76,0,0)"/>
<rect x="62.29" y="386.08" width="7.36" height="7.39" fill="rgb(0,0,0)"/>
<rect x="69.35" y="386.08" width="7.36" height="7.39" fill="rgb(0,92,0)"/>
<rect x="76.41" y="386.08" width="7.36" height="7.39" fill="rgb(0,153,0)"/>
<rect x="83.47" y="386.08" width="7.36" height="7.39" fill="rgb(0,129,0)"/>
<rect x="90.53" y="386.08" width="7.36" height="7.39" fill="rgb(0,92,0)"/>
<rect x="97.58" y="386.08" width="7.36" height="7.39" fill="rgb(0,153,0)"/>
<rect x="104.64" y="386.08" width="7.36" height="7.39" fill="rgb(0,104,0)"/>
<rect x="27.00" y="393.17" width="7.36" height="7.39" fill="rgb(178,0,0)"/>
<rect x="34.06" y="393.17" width="7.36" height="7.39" fill="rgb(153,0,0)"/>
<rect x="41.12" y="393.17" width="7.36" height="7.39" fill="rgb(178,0,0)"/>
<rect x="48.17" y="393.17" width="7.36" height="7.39" fill="rgb(76,0,0)"/>
<rect x="55.23" y="393.17" width="7.36" height="7.39" fill="rgb(102,0,0)"/>
<rect x="62.29" y="393.17" width="7.36" height="7.39" fill="rgb(26,0,0)"/>
<rect x="69.35" y="393.17" width="7.36" height="7.39" fill="rgb(0,92,0)"/>
<rect x="76.41" y="393.17" width="7.36" height="7.39" fill="rgb(0,129,0)"/>
<rect x="83.47" y="393.17" width="7.36" height="7.39" fill="rgb(0,141,0)"/>
<rect x="90.53" y="393.17" width="7.36" height="7.39" fill="rgb(0,117,0)"/>
<rect x="97.58" y="393.17" width="7.36" height="7.39" fill="rgb(0,104,0)"/>
<rect x="104.64" y="393.17" width="7.36" height="7.39" fill="rgb(0,92,0)"/>
<rect x="27.00" y="400.26" width="7.36" height="7.39" fill="rgb(178,0,0)"/>
<rect x="34.06" y="400.26" width="7.36" height="7.39" fill="rgb(191,0,0)"/>
<rect x="41.12" y="400.26" width="7.36" height="7.39" fill="rgb(166,0,0)"/>
<rect x="48.17" y="400.26" width="7.36" height="7.39" fill="rgb(13,0,0)"/>
<rect x="55.23" y="400.26" width="7.36" height="7.39" fill="rgb(51,0,0)"/>
<rect x="62.29" y="400.26" width="7.36" height="7.39" fill="rgb(51,0,0)"/>
<rect x="69.35" y="400.26" width="7.36" height="7.39" fill="rgb(0,92,0)"/>
<rect x="76.41" y="400.26" width="7.36" height="7.39" fill="rgb(0,117,0)"/>
<rect x="83.47" y="400.26" width="7.36" height="7.39" fill="rgb(0,20,0)"/>
<rect x="90.53" y="400.26" width="7.36" height="7.39" fill="rgb(0,153,0)"/>
<rect x="97.58" y="400.26" width="7.36" height="7.39" fill="rgb(0,104,0)"/>
<rect x="104.64" y="400.26" width="7.36" height="7.39" fill="rgb(0,92,0)"/>
<rect x="27.00" y="407.34" width="7.36" height="7.39" fill="rgb(13,0,0)"/>
<rect x="34.06" y="407.34" width="7.36" height="7.39" fill="rgb(38,0,0)"/>
<rect x="41.12" y="407.34" width="7.36" height="7.39" fill="rgb(0,0,0)"/>
<rect x="48.17" y="407.34" width="7.36" height="7.39" fill="rgb(140,0,0)"/>
<rect x="55.23" y="407.34" width="7.36" height="7.39" fill="rgb(153,0,0)"/>
<rect x="62.29" y="407.34" width="7.36" height="7.39" fill="rgb(166,0,0)"/>
<rect x="69.35" y="407.34" width="7.36" height="7.39" fill="rgb(0,200,0)"/>
<rect x="76.41" y="407.34" width="7.36" height="7.39" fill="rgb(0,200,0)"/>
<rect x="83.47" y="407.34" width="7.36" height="7.39" fill="rgb(0,200,0)"/>
<rect x="90.53" y="407.34" width="7.36" height="7.39" fill="rgb(38,0,0)"/>
<rect x="97.58" y="407.34" width="7.36" height="7.39" fill="rgb(89,0,0)"/>
<rect x="104.64" y="407.34" width="7.36" height="7.39" fill="rgb(76,0,0)"/>
<rect x="27.00" y="414.43" width="7.36" height="7.39" fill="rgb(13,0,0)"/>
<rect x="34.06" y="414.43" width="7.36" height="7.39" fill="rgb(0,0,0)"/>
<rect x="41.12" y="414.43" width="7.36" height="7.39" fill="rgb(0,51,0)"/>
<rect x="48.17" y="414.43" width="7.36" height="7.39" fill="rgb(140,0,0)"/>
<rect x="55.23" y="414.43" width="7.36" height="7.39" fill="rgb(178,0,0)"/>
<rect x="62.29" y="414.43" width="7.36" height="7.39" fill="rgb(140,0,0)"/>
<rect x="69.35" y="414.43" width="7.36" height="7.39" fill="rgb(0,200,0)"/>
<rect x="76.41" y="414.43" width="7.36" height="7.39" fill="rgb(0,200,0)"/>
<rect x="83.47" y="414.43" width="7.36" height="7.39" fill="rgb(0,200,0)"/>
<rect x="90.53" y="414.43" width="7.36" height="7.39" fill="rgb(51,0,0)"/>
<rect x="97.58" y="414.43" width="7.36" height="7.39" fill="rgb(76,0,0)"/>
<rect x="104.64" y="414.43" width="7.36" height="7.39" fill="rgb(64,0,0)"/>
<rect x="27.00" y="421.52" width="7.36" height="7.39" fill="rgb(26,0,0)"/>
<rect x="34.06" y="421.52" width="7.36" height="7.39" fill="rgb(38,0,0)"/>
<rect x="41.12" y="421.52" width="7.36" height="7.39" fill="rgb(38,0,0)"/>
<rect x="48.17" y="421.52" width="7.36" height="7.39" fill="rgb(140,0,0)"/>
<rect x="55.23" y="421.52" width="7.36" height="7.39" fill="rgb(153,0,0)"/>
<rect x="62.29" y="421.52" width="7.36" height="7.39" fill="rgb(115,0,0)"/>
<rect x="69.35" y="421.52" width="7.36" height="7.39" fill="rgb(0,211,0)"/>
<rect x="76.41" y="421.52" width="7.36" height="7.39" fill="rgb(0,188,0)"/>
<rect x="83.47" y="421.52" width="7.36" height="7.39" fill="rgb(0,188,0)"/>
<rect x="90.53" y="421.52" width="7.36" height="7.39" fill="rgb(13,0,0)"/>
<rect x="97.58" y="421.52" width="7.36" height="7.39" fill="rgb(38,0,0)"/>
<rect x="104.64" y="421.52" width="7.36" height="7.39" fill="rgb(51,0,0)"/>
<rect x="27.00" y="428.61" width="7.36" height="7.39" fill="rgb(0,188,0)"/>
<rect x="34.06" y="428.61" width="7.36" height="7.39" fill="rgb(0,165,0)"/>
<rect x="41.12" y="428.61" width="7.36" height="7.39" fill="rgb(0,177,0)"/>
<rect x="48.17" y="428.61" width="7.36" height="7.39" fill="rgb(0,20,0)"/>
<rect x="55.23" y="428.61" width="7.36" height="7.39" fill="rgb(0,78,0)"/>
<rect x="62.29" y="428.61" width="7.36" height="7.39" fill="rgb(0,0,0)"/>
<rect x="69.35" y="428.61" width="7.36" height="7.39" fill="rgb(26,0,0)"/>
<rect x="76.41" y="428.61" width="7.36" height="7.39" fill="rgb(38,0,0)"/>
<rect x="83.47" y="428.61" width="7.36" height="7.39" fill="rgb(38,0,0)"/>
<rect x="90.53" y="428.61" width="7.36" height="7.39" fill="rgb(191,0,0)"/>
<rect x="97.58" y="428.61" width="7.36" height="7.39" fill="rgb(102,0,0)"/>
<rect x="104.64" y="428.61" width="7.36" height="7.39" fill="rgb(128,0,0)"/>
<rect x="27.00" y="435.70" width="7.36" height="7.39" fill="rgb(0,233,0)"/>
<rect x="34.06" y="435.70" width="7.36" height="7.39" fill="rgb(0,211,0)"/>
<rect x="41.12" y="435.70" width="7.36" height="7.39" fill="rgb(0,188,0)"/>
<rect x="48.17" y="435.70" width="7.36" height="7.39" fill="rgb(0,20,0)"/>
<rect x="55.23" y="435.70" width="7.36" height="7.39" fill="rgb(0,65,0)"/>
<rect x="62.29" y="435.70" width="7.36" height="7.39" fill="rgb(38,0,0)"/>
<rect x="69.35" y="435.70" width="7.36" height="7.39" fill="rgb(76,0,0)"/>
<rect x="76.41" y="435.70" width="7.36" height="7.39" fill="rgb(128,0,0)"/>
<rect x="83.47" y="435.70" width="7.36" height="7.39" fill="rgb(89,0,0)"/>
<rect x="90.53" y="435.70" width="7.36" height="7.39" fill="rgb(26,0,0)"/>
<rect x="97.58" y="435.70" width="7.36" height="7.39" fill="rgb(204,0,0)"/>
<rect x="104.64" y="435.70" width="7.36" height="7.39" fill="rgb(76,0,0)"/>
<rect x="27.00" y="442.79" width="7.36" height="7.39" fill="rgb(0,222,0)"/>
<rect x="34.06" y="442.79" width="7.36" height="7.39" fill="rgb(0,200,0)"/>
<rect x="41.12" y="442.79" width="7.36" height="7.39" fill="rgb(0,188,0)"/>
<rect x="48.17" y="442.79" width="7.36" height="7.39" fill="rgb(0,0,0)"/>
<rect x="55.23" y="442.79" width="7.36" height="7.39" fill="rgb(0,141,0)"/>
<rect x="62.29" y="442.79" width="7.36" height="7.39" fill="rgb(38,0,0)"/>
<rect x="69.35" y="442.79" width="7.36" height="7.39" fill="rgb(76,0,0)"/>
<rect x="76.41" y="442.79" width="7.36" height="7.39" fill="rgb(64,0,0)"/>
<rect x="83.47" y="442.79" width="7.36" height="7.39" fill="rgb(89,0,0)"/>
<rect x="90.53" y="442.79" width="7.36" height="7.39" fill="rgb(115,0,0)"/>
<rect x="97.58" y="442.79" width="7.36" height="7.39" fill="rgb(153,0,0)"/>
<rect x="104.64" y="442.79" width="7.36" height="7.39" fill="rgb(102,0,0)"/>
<rect x="27.00" y="449.88" width="7.36" height="7.39" fill="rgb(0,211,0)"/>
<rect x="34.06" y="449.88" width="7.36" height="7.39" fill="rgb(0,200,0)"/>
<rect x="41.12" y="449.88" width="7.36" height="7.39" fill="rgb(0,188,0)"/>
<rect x="48.17" y="449.88" width="7.36" height="7.39" fill="rgb(0,0,0)"/>
<rect x="55.23" y="449.88" width="7.36" height="7.39" fill="rgb(38,0,0)"/>
<rect x="62.29" y="449.88" width="7.36" height="7.39" fill="rgb(38,0,0)"/>
<rect x="69.35" y="449.88" width="7.36" height="7.39" fill="rgb(89,0,0)"/>
<rect x="76.41" y="449.88" width="7.36" height="7.39" fill="rgb(89,0,0)"/>
<rect x="83.47" y="449.88" width="7.36" height="7.39" fill="rgb(89,0,0)"/>
<rect x="90.53" y="449.88" width="7.36" height="7.39" fill="rgb(102,0,0)"/>
<rect x="97.58" y="449.88" width="7.36" height="7.39" fill="rgb(102,0,0)"/>
<rect x="104.64" y="449.88" width="7.36" height="7.39" fill="rgb(102,0,0)"/>
<rect x="27.00" y="456.97" width="7.36" height="7.39" fill="rgb(0,211,0)"/>
<rect x="34.06" y="456.97" width="7.36" height="7.39" fill="rgb(0,200,0)"/>
<rect x="41.12" y="456.97" width="7.36" height="7.39" fill="rgb(0,177,0)"/>
<rect x="48.17" y="456.97" width="7.36" height="7.39" fill="rgb(0,0,0)"/>
<rect x="55.23" y="456.97" width="7.36" height="7.39" fill="rgb(0,51,0)"/>
<rect x="62.29" y="456.97" width="7.36" height="7.39" fill="rgb(13,0,0)"/>
<rect x="69.35" y="456.97" width="7.36" height="7.39" fill="rgb(128,0,0)"/>
<rect x="76.41" y="456.97" width="7.36" height="7.39" fill="rgb(128,0,0)"/>
<rect x="83.47" y="456.97" width="7.36" height="7.39" fill="rgb(128,0,0)"/>
<rect x="90.53" y="456.97" width="7.36" height="7.39" fill="rgb(102,0,0)"/>
<rect x="97.58" y="456.97" width="7.36" height="7.39" fill="rgb(128,0,0)"/>
<rect x="104.64" y="456.97" width="7.36" height="7.39" fill="rgb(102,0,0)"/>
<rect x="27.00" y="464.06" width="7.36" height="7.39" fill="rgb(0,211,0)"/>
<rect x="34.06" y="464.06" width="7.36" height="7.39" fill="rgb(0,188,0)"/>
<rect x="41.12" y="464.06" width="7.36" height="7.39" fill="rgb(0,188,0)"/>
<rect x="48.17" y="464.06" width="7.36" height="7.39" fill="rgb(0,20,0)"/>
<rect x="55.23" y="464.06" width="7.36" height="7.39" fill="rgb(0,51,0)"/>
<rect x="62.29" y="464.06" width="7.36" height="7.39" fill="rgb(38,0,0)"/>
<rect x="69.35" y="464.06" width="7.36" height="7.39" fill="rgb(128,0,0)"/>
<rect x="76.41" y="464.06" width="7.36" height="7.39" fill="rgb(115,0,0)"/>
<rect x="83.47" y="464.06" width="7.36" height="7.39" fill="rgb(128,0,0)"/>
<rect x="90.53" y="464.06" width="7.36" height="7.39" fill="rgb(102,0,0)"/>
<rect x="97.58" y="464.06" width="7.36" height="7.39" fill="rgb(128,0,0)"/>
<rect x="104.64" y="464.06" width="7.36" height="7.39" fill="rgb(102,0,0)"/>
<rect x="27.00" y="471.14" width="7.36" height="7.39" fill="rgb(0,211,0)"/>
<rect x="34.06" y="471.14" width="7.36" height="7.39" fill="rgb(0,177,0)"/>
<rect x="41.12" y="471.14" width="7.36" height="7.39" fill="rgb(0,188,0)"/>
<rect x="48.17" y="471.14" width="7.36" height="7.39" fill="rgb(0,78,0)"/>
<rect x="55.23" y="471.14" width="7.36" height="7.39" fill="rgb(0,65,0)"/>
<rect x="62.29" y="471.14" width="7.36" height="7.39" fill="rgb(38,0,0)"/>
<rect x="69.35" y="471.14" width="7.36" height="7.39" fill="rgb(26,0,0)"/>
<rect x="76.41" y="471.14" width="7.36" height="7.39" fill="rgb(38,0,0)"/>
<rect x="83.47" y="471.14" width="7.36" height="7.39" fill="rgb(26,0,0)"/>
<rect x="90.53" y="471.14" width="7.36" height="7.39" fill="rgb(128,0,0)"/>
<rect x="97.58" y="471.14" width="7.36" height="7.39" fill="rgb(89,0,0)"/>
<rect x="104.64" y="471.14" width="7.36" height="7.39" fill="rgb(128,0,0)"/>
<rect x="27.00" y="478.23" width="7.36" height="7.39" fill="rgb(0,211,0)"/>
<rect x="34.06" y="478.23" width="7.36" height="7.39" fill="rgb(0,200,0)"/>
<rect x="41.12" y="478.23" width="7.36" height="7.39" fill="rgb(0,188,0)"/>
<rect x="48.17" y="478.23" width="7.36" height="7.39" fill="rgb(89,0,0)"/>
<rect x="55.23" y="478.23" width="7.36" height="7.39" fill="rgb(51,0,0)"/>
<rect x="62.29" y="478.23" width="7.36" height="7.39" fill="rgb(51,0,0)"/>
<rect x="69.35" y="478.23" width="7.36" height="7.39" fill="rgb(26,0,0)"/>
<rect x="76.41" y="478.23" width="7.36" height="7.39" fill="rgb(13,0,0)"/>
<rect x="83.47" y="478.23" width="7.36" height="7.39" fill="rgb(26,0,0)"/>
<rect x="90.53" y="478.23" width="7.36" height="7.39" fill="rgb(128,0,0)"/>
<rect x="97.58" y="478.23" width="7.36" height="7.39" fill="rgb(102,0,0)"/>
<rect x="104.64" y="478.23" width="7.36" height="7.39" fill="rgb(128,0,0)"/>
<rect x="27.00" y="485.32" width="7.36" height="7.39" fill="rgb(0,211,0)"/>
<rect x="34.06" y="485.32" width="7.36" height="7.39" fill="rgb(0,200,0)"/>
<rect x="41.12" y="485.32" width="7.36" height="7.39" fill="rgb(0,188,0)"/>
<rect x="48.17" y="485.32" width="7.36" height="7.39" fill="rgb(64,0,0)"/>
<rect x="55.23" y="485.32" width="7.36" height="7.39" fill="rgb(76,0,0)"/>
<rect x="62.29" y="485.32" width="7.36" height="7.39" fill="rgb(115,0,0)"/>
<rect x="69.35" y="485.32" width="7.36" height="7.39" fill="rgb(0,78,0)"/>
<rect x="76.41" y="485.32" width="7.36" height="7.39" fill="rgb(0,78,0)"/>
<rect x="83.47" y="485.32" width="7.36" height="7.39" fill="rgb(0,65,0)"/>
<rect x="90.53" y="485.32" width="7.36" height="7.39" fill="rgb(128,0,0)"/>
<rect x="97.58" y="485.32" width="7.36" height="7.39" fill="rgb(89,0,0)"/>
<rect x="104.64" y="485.32" width="7.36" height="7.39" fill="rgb(128,0,0)"/>
<rect x="27.00" y="492.41" width="7.36" height="7.39" fill="rgb(0,211,0)"/>
<rect x="34.06" y="492.41" width="7.36" height="7.39" fill="rgb(0,200,0)"/>
<rect x="41.12" y="492.41" width="7.36" height="7.39" fill="rgb(0,188,0)"/>
<rect x="48.17" y="492.41" width="7.36" height="7.39" fill="rgb(51,0,0)"/>
<rect x="55.23" y="492.41" width="7.36" height="7.39" fill="rgb(76,0,0)"/>
<rect x="62.29" y="492.41" width="7.36" height="7.39" fill="rgb(115,0,0)"/>
<rect x="69.35" y="492.41" width="7.36" height="7.39" fill="rgb(0,78,0)"/>
<rect x="76.41" y="492.41" width="7.36" height="7.39" fill="rgb(0,65,0)"/>
<rect x="83.47" y="492.41" width="7.36" height="7.39" fill="rgb(0,51,0)"/>
<rect x="90.53" y="492.41" width="7.36" height="7.39" fill="rgb(128,0,0)"/>
<rect x="97.58" y="492.41" width="7.36" height="7.39" fill="rgb(89,0,0)"/>
<rect x="104.64" y="492.41" width="7.36" height="7.39" fill="rgb(128,0,0)"/>
<rect x="27.00" y="499.50" width="7.36" height="7.39" fill="rgb(0,211,0)"/>
<rect x="34.06" y="499.50" width="7.36" height="7.39" fill="rgb(0,200,0)"/>
<rect x="41.12" y="499.50" width="7.36" height="7.39" fill="rgb(0,188,0)"/>
<rect x="48.17" y="499.50" width="7.36" height="7.39" fill="rgb(64,0,0)"/>
<rect x="55.23" y="499.50" width="7.36" height="7.39" fill="rgb(89,0,0)"/>
<rect x="62.29" y="499.50" width="7.36" height="7.39" fill="rgb(128,0,0)"/>
<rect x="69.35" y="499.50" width="7.36" height="7.39" fill="rgb(0,65,0)"/>
<rect x="76.41" y="499.50" width="7.36" height="7.39" fill="rgb(0,20,0)"/>
<rect x="83.47" y="499.50" width="7.36" height="7.39" fill="rgb(0,65,0)"/>
<rect x="90.53" y="499.50" width="7.36" height="7.39" fill="rgb(140,0,0)"/>
<rect x="97.58" y="499.50" width="7.36" height="7.39" fill="rgb(128,0,0)"/>
<rect x="104.64" y="499.50" width="7.36" height="7.39" fill="rgb(128,0,0)"/>
<rect x="27.00" y="506.59" width="7.36" height="7.39" fill="rgb(0,177,0)"/>
<rect x="34.06" y="506.59" width="7.36" height="7.39" fill="rgb(0,200,0)"/>
<rect x="41.12" y="506.59" width="7.36" height="7.39" fill="rgb(0,177,0)"/>
<rect x="48.17" y="506.59" width="7.36" height="7.39" fill="rgb(153,0,0)"/>
<rect x="55.23" y="506.59" width="7.36" height="7.39" fill="rgb(102,0,0)"/>
<rect x="62.29" y="506.59" width="7.36" height="7.39" fill="rgb(89,0,0)"/>
<rect x="69.35" y="506.59" width="7.36" height="7.39" fill="rgb(0,92,0)"/>
<rect x="76.41" y="506.59" width="7.36" height="7.39" fill="rgb(0,78,0)"/>
<rect x="83.47" y="506.59" width="7.36" height="7.39" fill="rgb(0,78,0)"/>
<rect x="90.53" y="506.59" width="7.36" height="7.39" fill="rgb(128,0,0)"/>
<rect x="97.58" y="506.59" width="7.36" height="7.39" fill="rgb(89,0,0)"/>
<rect x="104.64" y="506.59" width="7.36" height="7.39" fill="rgb(115,0,0)"/>
<rect x="27.00" y="513.68" width="7.36" height="7.39" fill="rgb(0,211,0)"/>
<rect x="34.06" y="513.68" width="7.36" height="7.39" fill="rgb(0,188,0)"/>
<rect x="41.12" y="513.68" width="7.36" height="7.39" fill="rgb(0,177,0)"/>
<rect x="48.17" y="513.68" width="7.36" height="7.39" fill="rgb(0,20,0)"/>
<rect x="55.23" y="513.68" width="7.36" height="7.39" fill="rgb(89,0,0)"/>
<rect x="62.29" y="513.68" width="7.36" height="7.39" fill="rgb(140,0,0)"/>
<rect x="69.35" y="513.68" width="7.36" height="7.39" fill="rgb(76,0,0)"/>
<rect x="76.41" y="513.68" width="7.36" height="7.39" fill="rgb(89,0,0)"/>
<rect x="83.47" y="513.68" width="7.36" height="7.39" fill="rgb(64,0,0)"/>
<rect x="90.53" y="513.68" width="7.36" height="7.39" fill="rgb(0,20,0)"/>
<rect x="97.58" y="513.68" width="7.36" height="7.39" fill="rgb(0,0,0)"/>
<rect x="104.64" y="513.68" width="7.36" height="7.39" fill="rgb(102,0,0)"/>
<rect x="27.00" y="520.77" width="7.36" height="7.39" fill="rgb(0,78,0)"/>
<rect x="34.06" y="520.77" width="7.36" height="7.39" fill="rgb(0,78,0)"/>
<rect x="41.12" y="520.77" width="7.36" height="7.39" fill="rgb(0,78,0)"/>
<rect x="48.17" y="520.77" width="7.36" height="7.39" fill="rgb(0,129,0)"/>
<rect x="55.23" y="520.77" width="7.36" height="7.39" fill="rgb(0,129,0)"/>
<rect x="62.29" y="520.77" width="7.36" height="7.39" fill="rgb(0,129,0)"/>
<rect x="69.35" y="520.77" width="7.36" height="7.39" fill="rgb(178,0,0)"/>
<rect x="76.41" y="520.77" width="7.36" height="7.39" fill="rgb(204,0,0)"/>
<rect x="83.47" y="520.77" width="7.36" height="7.39" fill="rgb(166,0,0)"/>
<rect x="90.53" y="520.77" width="7.36" height="7.39" fill="rgb(0,78,0)"/>
<rect x="97.58" y="520.77" width="7.36" height="7.39" fill="rgb(0,0,0)"/>
<rect x="104.64" y="520.77" width="7.36" height="7.39" fill="rgb(0,78,0)"/>
<rect x="27.00" y="527.86" width="7.36" height="7.39" fill="rgb(0,92,0)"/>
<rect x="34.06" y="527.86" width="7.36" height="7.39" fill="rgb(0,92,0)"/>
<rect x="41.12" y="527.86" width="7.36" height="7.39" fill="rgb(0,92,0)"/>
<rect x="48.17" y="527.86" width="7.36" height="7.39" fill="rgb(0,92,0)"/>
<rect x="55.23" y="527.86" width="7.36" height="7.39" fill="rgb(0,92,0)"/>
<rect x="62.29" y="527.86" width="7.36" height="7.39" fill="rgb(0,92,0)"/>
<rect x="69.35" y="527.86" width="7.36" height="7.39" fill="rgb(166,0,0)"/>
<rect x="76.41" y="527.86" width="7.36" height="7.39" fill="rgb(166,0,0)"/>
<rect x="83.47" y="527.86" width="7.36" height="7.39" fill="rgb(191,0,0)"/>
<rect x="90.53" y="527.86" width="7.36" height="7.39" fill="rgb(0,78,0)"/>
<rect x="97.58" y="527.86" width="7.36" height="7.39" fill="rgb(0,92,0)"/>
<rect x="104.64" y="527.86" width="7.36" height="7.39" fill="rgb(0,92,0)"/>
<rect x="27.00" y="534.94" width="7.36" height="7.39" fill="rgb(0,117,0)"/>
<rect x="34.06" y="534.94" width="7.36" height="7.39" fill="rgb(0,65,0)"/>
<rect x="41.12" y="534.94" width="7.36" height="7.39" fill="rgb(0,104,0)"/>
<rect x="48.17" y="534.94" width="7.36" height="7.39" fill="rgb(0,165,0)"/>
<rect x="55.23" y="534.94" width="7.36" height="7.39" fill="rgb(0,129,0)"/>
<rect x="62.29" y="534.94" width="7.36" height="7.39" fill="rgb(0,153,0)"/>
<rect x="69.35" y="534.94" width="7.36" height="7.39" fill="rgb(115,0,0)"/>
<rect x="76.41" y="534.94" width="7.36" height="7.39" fill="rgb(102,0,0)"/>
<rect x="83.47" y="534.94" width="7.36" height="7.39" fill="rgb(115,0,0)"/>
<rect x="90.53" y="534.94" width="7.36" height="7.39" fill="rgb(128,0,0)"/>
<rect x="97.58" y="534.94" width="7.36" height="7.39" fill="rgb(76,0,0)"/>
<rect x="104.64" y="534.94" width="7.36" height="7.39" fill="rgb(51,0,0)"/>
<rect x="27.00" y="542.03" width="7.36" height="7.39" fill="rgb(0,129,0)"/>
<rect x="34.06" y="542.03" width="7.36" height="7.39" fill="rgb(0,78,0)"/>
<rect x="41.12" y="542.03" width="7.36" height="7.39" fill="rgb(0,92,0)"/>
<rect x="48.17" y="542.03" width="7.36" height="7.39" fill="rgb(0,141,0)"/>
<rect x="55.23" y="542.03" width="7.36" height="7.39" fill="rgb(0,92,0)"/>
<rect x="62.29" y="542.03" width="7.36" height="7.39" fill="rgb(0,141,0)"/>
<rect x="69.35" y="542.03" width="7.36" height="7.39" fill="rgb(166,0,0)"/>
<rect x="76.41" y="542.03" width="7.36" height="7.39" fill="rgb(153,0,0)"/>
<rect x="83.47" y="542.03" width="7.36" height="7.39" fill="rgb(140,0,0)"/>
<rect x="90.53" y="542.03" width="7.36" height="7.39" fill="rgb(89,0,0)"/>
<rect x="97.58" y="542.03" width="7.36" height="7.39" fill="rgb(0,0,0)"/>
<rect x="104.64" y="542.03" width="7.36" height="7.39" fill="rgb(76,0,0)"/>
<rect x="27.00" y="549.12" width="7.36" height="7.39" fill="rgb(0,129,0)"/>
<rect x="34.06" y="549.12" width="7.36" height="7.39" fill="rgb(0,36,0)"/>
<rect x="41.12" y="549.12" width="7.36" height="7.39" fill="rgb(0,92,0)"/>
<rect x="48.17" y="549.12" width="7.36" height="7.39" fill="rgb(0,141,0)"/>
<rect x="55.23" y="549.12" width="7.36" height="7.39" fill="rgb(0,141,0)"/>
<rect x="62.29" y="549.12" width="7.36" height="7.39" fill="rgb(0,141,0)"/>
<rect x="69.35" y="549.12" width="7.36" height="7.39" fill="rgb(153,0,0)"/>
<rect x="76.41" y="549.12" width="7.36" height="7.39" fill="rgb(153,0,0)"/>
<rect x="83.47" y="549.12" width="7.36" height="7.39" fill="rgb(140,0,0)"/>
<rect x="90.53" y="549.12" width="7.36" height="7.39" fill="rgb(13,0,0)"/>
<rect x="97.58" y="549.12" width="7.36" height="7.39" fill="rgb(0,51,0)"/>
<rect x="104.64" y="549.12" width="7.36" height="7.39" fill="rgb(128,0,0)"/>
<rect x="27.00" y="556.21" width="7.36" height="7.39" fill="rgb(0,141,0)"/>
<rect x="34.06" y="556.21" width="7.36" height="7.39" fill="rgb(0,129,0)"/>
<rect x="41.12" y="556.21" width="7.36" height="7.39" fill="rgb(0,141,0)"/>
<rect x="48.17" y="556.21" width="7.36" height="7.39" fill="rgb(0,92,0)"/>
<rect x="55.23" y="556.21" width="7.36" height="7.39" fill="rgb(0,129,0)"/>
<rect x="62.29" y="556.21" width="7.36" height="7.39" fill="rgb(0,177,0)"/>
<rect x="69.35" y="556.21" width="7.36" height="7.39" fill="rgb(178,0,0)"/>
<rect x="76.41" y="556.21" width="7.36" height="7.39" fill="rgb(166,0,0)"/>
<rect x="83.47" y="556.21" width="7.36" height="7.39" fill="rgb(153,0,0)"/>
<rect x="90.53" y="556.21" width="7.36" height="7.39" fill="rgb(89,0,0)"/>
<rect x="97.58" y="556.21" width="7.36" height="7.39" fill="rgb(0,0,0)"/>
<rect x="104.64" y="556.21" width="7.36" height="7.39" fill="rgb(102,0,0)"/>
</g>
<g font-family='"Liberation Sans", sans-serif' font-size="6.2" fill="#1a1a1a" stroke="#1a1a1a" stroke-width="0.08" letter-spacing="0.3">
<text x="119.2" y="122.44">NCRNA00195</text>
<text x="119.2" y="129.53">GP5</text>
<text x="119.2" y="136.62">PDK1</text>
<text x="119.2" y="143.71">PCSK5</text>
<text x="119.2" y="150.80">ACTN1</text>
<text x="119.2" y="157.89">RBM11</text>
<text x="119.2" y="164.98">ARMCX1</text>
<text x="119.2" y="172.07">CNN3</text>
<text x="119.2" y="179.16">SH3BGRL2</text>
<text x="119.2" y="186.24">UBE2E2</text>
<text x="119.2" y="193.33">ZNF295A</text>
<text x="119.2" y="200.42">GATM</text>
<text x="119.2" y="207.51">NBEA</text>
<text x="119.2" y="214.60">TBXA2R</text>
<text x="119.2" y="221.69">TMEM220</text>
<text x="119.2" y="228.78">ZNF662</text>
<text x="119.2" y="235.87">SMARCA1</text>
<text x="119.2" y="242.96">CACHD1</text>
<text x="119.2" y="250.04">GNAI1</text>
<text x="119.2" y="257.13">SPINT2</text>
<text x="119.2" y="264.22">ARMCX2</text>
<text x="119.2" y="271.31">MEST</text>
<text x="119.2" y="278.40">ITGA6</text>
<text x="119.2" y="285.49">SH3YL1</text>
<text x="119.2" y="292.58">FLNB</text>
<text x="119.2" y="299.67">REG4</text>
<text x="119.2" y="306.76">RIN3</text>
<text x="119.2" y="313.84">C11orf1</text>
<text x="119.2" y="320.93">CLEC11A</text>
<text x="119.2" y="328.02">LRRN3</text>
<text x="119.2" y="335.11">LAYN</text>
<text x="119.2" y="342.20">LASS6</text>
<text x="119.2" y="349.29">PPFIBP2</text>
<text x="119.2" y="356.38">KCTD12</text>
<text x="119.2" y="363.47">BTBD11</text>
<text x="119.2" y="370.56">TMIGD2</text>
<text x="119.2" y="377.64">BEND5</text>
<text x="119.2" y="384.73">CEP70</text>
<text x="119.2" y="391.82">AEBP1</text>
<text x="119.2" y="398.91">CUX2</text>
<text x="119.2" y="406.00">C2orf89</text>
<text x="119.2" y="413.09">CDCA7L</text>
<text x="119.2" y="420.18">ADRBK2</text>
<text x="119.2" y="427.27">MAL</text>
<text x="119.2" y="434.36">FKBP1B</text>
<text x="119.2" y="441.44">ATP2B4</text>
<text x="119.2" y="448.53">PERP</text>
<text x="119.2" y="455.62">SLAMF1</text>
<text x="119.2" y="462.71">TBK1</text>
<text x="119.2" y="469.80">HNRPLL</text>
<text x="119.2" y="476.89">SLFN11</text>
<text x="119.2" y="483.98">LRFN4</text>
<text x="119.2" y="491.07">VANGL1</text>
<text x="119.2" y="498.16">SAP30</text>
<text x="119.2" y="505.24">TESC</text>
<text x="119.2" y="512.33">MPST</text>
<text x="119.2" y="519.42">RHOU</text>
<text x="119.2" y="526.51">CHN1</text>
<text x="119.2" y="533.60">TNIP3</text>
<text x="119.2" y="540.69">NOD2</text>
<text x="119.2" y="547.78">SMAD3</text>
<text x="119.2" y="554.87">CHN2</text>
<text x="119.2" y="561.96">RCAN2</text>
</g>
<rect x="27.0" y="571.4" width="16.5" height="7.3" fill="#00ff00"/>
<rect x="44.0" y="571.4" width="16.5" height="7.3" fill="#008000"/>
<rect x="61.0" y="571.4" width="16.5" height="7.3" fill="#000000"/>
<rect x="78.0" y="571.4" width="16.5" height="7.3" fill="#800000"/>
<rect x="95.0" y="571.4" width="16.5" height="7.3" fill="#ff0000"/>
<g font-family='"Liberation Sans", sans-serif' font-size="5.6" fill="#222" stroke="#222" stroke-width="0.12" text-anchor="middle" letter-spacing="0.4">
<text x="34.6" y="585">-2.0</text>
<text x="51.0" y="585">-1.0</text>
<text x="68.5" y="585">0</text>
<text x="86.2" y="585">1.0</text>
<text x="102.9" y="585">2.0</text>
</g>
<rect x="27.5" y="84.2" width="18.9" height="29" rx="1.0" fill="#fff" stroke="#3a3a3a" stroke-width="1.8"/>
<rect x="49.1" y="84.2" width="18.4" height="29" rx="1.0" fill="#fff" stroke="#3a3a3a" stroke-width="1.8"/>
<rect x="71.0" y="84.2" width="18.6" height="29" rx="1.0" fill="#fff" stroke="#3a3a3a" stroke-width="1.8"/>
<rect x="92.2" y="84.2" width="19.2" height="29" rx="1.0" fill="#fff" stroke="#3a3a3a" stroke-width="1.8"/>
<text transform="translate(39.8,109.8) rotate(-90)" font-family='"Liberation Sans", sans-serif' font-weight="bold" fill="#1a1a1a"><tspan font-size="9.6">T</tspan><tspan font-size="6.4" dy="2.6">N</tspan></text>
<text transform="translate(61.5,109.8) rotate(-90)" font-family='"Liberation Sans", sans-serif' font-weight="bold" fill="#1a1a1a"><tspan font-size="9.6">T</tspan><tspan font-size="6.4" dy="2.7">(TN)</tspan></text>
<text transform="translate(82.8,109.6) rotate(-90)" font-family='"Liberation Sans", sans-serif' font-weight="bold" fill="#1a1a1a"><tspan font-size="9.6">T</tspan><tspan font-size="6.2" dy="2.1">CM</tspan></text>
<text transform="translate(102.9,112.4) rotate(-90)" font-family='"Liberation Sans", sans-serif' font-weight="bold" fill="#1a1a1a"><tspan font-size="9.6">T</tspan><tspan font-size="6.4" dy="2.8">(TCM)</tspan></text>
<g font-family='"Liberation Sans", sans-serif' font-size="6.2" font-weight="bold" fill="#333">
<text transform="translate(31.80,80.3) rotate(-90)">DONOR #1</text>
<text transform="translate(38.70,80.3) rotate(-90)">DONOR #2</text>
<text transform="translate(45.20,80.3) rotate(-90)">DONOR #3</text>
<text transform="translate(53.40,80.3) rotate(-90)">DONOR #1</text>
<text transform="translate(60.30,80.3) rotate(-90)">DONOR #2</text>
<text transform="translate(67.30,80.3) rotate(-90)">DONOR #3</text>
<text transform="translate(75.30,80.3) rotate(-90)">DONOR #1</text>
<text transform="translate(81.90,80.3) rotate(-90)">DONOR #2</text>
<text transform="translate(88.60,80.3) rotate(-90)">DONOR #3</text>
<text transform="translate(97.00,80.3) rotate(-90)">DONOR #1</text>
<text transform="translate(103.60,80.3) rotate(-90)">DONOR #2</text>
<text transform="translate(110.70,80.3) rotate(-90)">DONOR #3</text>
</g>
<path d="M35.5 47V9H75.4V19.1 M57.4 41.9V19.1H93.7V32.3 M82.7 44.3V32.3H105V44.3
M29.6 48.6V47H43.4V48.6 M36.7 48.6V47.6
M51.6 48.6V41.9H62.4V43.2 M58.6 48.6V43.2H66.2V48.6
M76.8 45.8V44.3H88.6V48.6 M73.3 48.6V45.8H80.3V48.6
M98.2 45.8V44.3H110.2V48.6 M95 48.6V45.8H101.6V48.6" stroke="#444" stroke-width="1.1" fill="none"/>
<text x="1.8" y="12.6" font-family='"Liberation Sans", sans-serif' font-weight="bold" font-size="14.5" fill="#000">A</text>
<text x="200.3" y="12.3" font-family='"Liberation Sans", sans-serif' font-weight="bold" font-size="14.5" fill="#000">B</text>
<text x="199.6" y="203.9" font-family='"Liberation Sans", sans-serif' font-weight="bold" font-size="14.5" fill="#000">C</text>
<text x="2.4" y="612.4" font-family='"Liberation Sans", sans-serif' font-weight="bold" font-size="14.5" fill="#000">D</text>
<text x="308.4" y="612.5" font-family='"Liberation Sans", sans-serif' font-weight="bold" font-size="14.5" fill="#000">E</text>
<rect x="231.3" y="25" width="158" height="151" fill="#ebebeb"/>
<rect x="249.5" y="27" width="137" height="129" fill="#fff"/>
<path d="M249.5 32.9H386.5 M249.5 52.7H386.5 M249.5 62.6H386.5 M249.5 72.5H386.5 M249.5 82.4H386.5 M268.8 27V89 M286.5 27V89 M304.5 27V89 M322.5 27V89 M340.0 27V89 M357.0 27V89 M375.0 27V89" stroke="#f0f0f0" stroke-width="0.6" fill="none"/>
<path d="M249.5 42.8H386.5" stroke="#c8c8c8" stroke-width="0.8"/>
<rect x="249.5" y="27" width="137" height="129" fill="none" stroke="#d0d0d0" stroke-width="0.6"/>
<path d="M249.5 89.3H386.5 M249.5 109.6H386.5" stroke="#d8d8d8" stroke-width="0.5"/>
<polyline points="249.5,42.8 250.0,40.4 250.5,38.0 251.0,36.8 251.5,35.7 252.0,34.5 252.5,33.8 253.0,33.1 253.5,32.5 254.0,31.8 254.5,31.5 255.0,31.2 255.5,30.9 256.0,30.6 256.5,30.4 257.0,30.2 257.5,30.1 258.0,29.9 258.5,30.0 259.0,30.1 259.5,30.3 260.0,30.4 260.5,30.3 261.0,30.1 261.5,30.0 262.0,29.8 262.5,29.7 263.0,29.5 263.5,29.6 264.0,30.0 264.5,30.4 265.0,30.8 265.5,31.2 266.0,31.5 266.5,31.9 267.0,32.2 267.5,32.5 268.0,32.9 268.5,33.2 269.0,33.5 269.5,33.9 270.0,34.2 270.5,34.6 271.0,34.9 271.5,35.2 272.0,35.6 272.5,36.0 273.0,36.3 273.5,36.6 274.0,37.0 274.5,37.4 275.0,37.7 275.5,38.0 276.0,38.4 276.5,38.8 277.0,39.1 277.5,39.4 278.0,39.8 278.5,40.1 279.0,40.4 279.5,40.7 280.0,41.0 280.5,40.3 281.0,40.8 281.5,41.3 282.0,41.7 282.5,42.2 283.0,42.7 283.5,43.1 284.0,43.4 284.5,43.8 285.0,44.1 285.5,44.4 286.0,44.7 286.5,45.1 287.0,45.4 287.5,45.8 288.0,46.2 288.5,46.5 289.0,46.9 289.5,47.2 290.0,47.6 290.5,47.9 291.0,48.3 291.5,48.6 292.0,47.9 292.5,48.4 293.0,48.9 293.5,49.4 294.0,49.9 294.5,50.5 295.0,51.1 295.5,51.5 296.0,52.0 296.5,52.4 297.0,52.8 297.5,53.2 298.0,53.6 298.5,53.9 299.0,54.2 299.5,54.5 300.0,54.9 300.5,55.2 301.0,55.5 301.5,55.8 302.0,56.1 302.5,56.4 303.0,56.7 303.5,56.0 304.0,56.5 304.5,57.0 305.0,57.5 305.5,58.0 306.0,58.5 306.5,58.9 307.0,59.2 307.5,59.6 308.0,59.9 308.5,60.2 309.0,60.5 309.5,60.8 310.0,61.0 310.5,61.3 311.0,61.5 311.5,61.8 312.0,62.1 312.5,62.3 313.0,62.6 313.5,62.9 314.0,63.1 314.5,63.4 315.0,63.7 315.5,64.0 316.0,63.2 316.5,63.7 317.0,64.1 317.5,64.6 318.0,65.1 318.5,65.5 319.0,65.9 319.5,66.2 320.0,66.5 320.5,66.8 321.0,67.0 321.5,67.2 322.0,67.5 322.5,66.7 323.0,67.1 323.5,67.5 324.0,67.9 324.5,68.3 325.0,68.7 325.5,69.1 326.0,69.3 326.5,69.5 327.0,69.7 327.5,69.9 328.0,70.2 328.5,70.4 329.0,70.6 329.5,70.5 330.0,70.4 330.5,69.3 331.0,69.5 331.5,70.1 332.0,70.7 332.5,71.3 333.0,71.9 333.5,72.3 334.0,72.6 334.5,72.9 335.0,73.2 335.5,73.4 336.0,73.7 336.5,74.0 337.0,74.3 337.5,74.6 338.0,74.9 338.5,75.2 339.0,74.5 339.5,75.0 340.0,75.5 340.5,76.0 341.0,76.5 341.5,77.0 342.0,77.4 342.5,77.7 343.0,78.0 343.5,78.3 344.0,78.6 344.5,78.9 345.0,79.2 345.5,79.4 346.0,79.6 346.5,79.8 347.0,80.0 347.5,80.2 348.0,80.3 348.5,80.6 349.0,80.8 349.5,80.1 350.0,80.6 350.5,81.1 351.0,81.5 351.5,81.8 352.0,82.2 352.5,82.4 353.0,82.5 353.5,82.7 354.0,82.8 354.5,81.8 355.0,82.1 355.5,82.4 356.0,82.7 356.5,82.9 357.0,83.2 357.5,82.2 358.0,82.2 358.5,82.2 359.0,82.2 359.5,82.7 360.0,83.3 360.5,83.7 361.0,84.0 361.5,83.0 362.0,83.3 362.5,83.6 363.0,83.9 363.5,84.2 364.0,84.5 364.5,84.3 365.0,83.0 365.5,83.0 366.0,82.9 366.5,83.4 367.0,84.0 367.5,84.5 368.0,85.0 368.5,85.1 369.0,85.2 369.5,85.4 370.0,84.4 370.5,84.7 371.0,84.8 371.5,85.0 372.0,85.1 372.5,85.2 373.0,85.1 373.5,84.6 374.0,84.0 374.5,83.5 375.0,82.0 375.5,80.5 376.0,79.0 376.5,76.5 377.0,74.0 377.5,70.9 378.0,67.4 378.5,63.0 379.0,58.0 379.5,53.0 380.0,47.8 380.4,43.5" fill="none" stroke="#55e455" stroke-width="1.6" stroke-linejoin="round"/>
<path d="M249.8 89.6V109.6 M250.6 89.6V109.6 M251.3 89.6V109.6 M252.0 89.6V109.6 M252.6 89.6V109.6 M253.2 89.6V109.6 M254.0 89.6V109.6 M254.8 89.6V109.6 M255.5 89.6V109.6 M256.4 89.6V109.6 M257.2 89.6V109.6 M258.2 89.6V109.6 M259.0 89.6V109.6 M260.3 89.6V109.6 M262.6 89.6V109.6 M280.3 89.6V109.6 M303.4 89.6V109.6 M315.8 89.6V109.6 M317.3 89.6V109.6 M322.5 89.6V109.6 M330.3 89.6V109.6 M338.9 89.6V109.6 M349.3 89.6V109.6 M354.5 89.6V109.6 M357.1 89.6V109.6 M361.4 89.6V109.6 M364.9 89.6V109.6 M370.0 89.6V109.6 M372.7 89.6V109.6 M373.6 89.6V109.6 M374.4 89.6V109.6 M375.1 89.6V109.6 M375.8 89.6V109.6 M376.5 89.6V109.6 M377.2 89.6V109.6 M377.9 89.6V109.6 M378.5 89.6V109.6 M379.1 89.6V109.6 M379.7 89.6V109.6 M380.2 89.6V109.6 M380.6 89.6V109.6" stroke="#666" stroke-width="0.5" fill="none"/>
<rect x="249.5" y="109.6" width="12.7" height="5.4" fill="#e6404a"/>
<rect x="262.0" y="109.6" width="10.2" height="5.4" fill="#e85a62"/>
<rect x="272.0" y="109.6" width="12.2" height="5.4" fill="#ec7478"/>
<rect x="284.0" y="109.6" width="10.2" height="5.4" fill="#f0aac6"/>
<rect x="294.0" y="109.6" width="10.2" height="5.4" fill="#f2c4da"/>
<rect x="304.0" y="109.6" width="18.2" height="5.4" fill="#dcd6f2"/>
<rect x="322.0" y="109.6" width="20.2" height="5.4" fill="#cfccf2"/>
<rect x="342.0" y="109.6" width="13.2" height="5.4" fill="#8a88ea"/>
<rect x="355.0" y="109.6" width="11.2" height="5.4" fill="#6462e2"/>
<rect x="366.0" y="109.6" width="10.2" height="5.4" fill="#4c4ade"/>
<rect x="376.0" y="109.6" width="4.9" height="5.4" fill="#14128e"/>
<path d="M249.5 137.0 L249.5 118.0 L250.2 124.0 L251.0 127.5 L252.5 130.0 L255.0 131.8 L260.0 133.2 L270.0 134.2 L290.0 135.0 L320.0 136.2 L340.0 137.6 L360.0 138.3 L370.0 138.8 L375.0 139.6 L378.0 141.0 L379.5 143.5 L380.3 148.0 L380.7 152.5 L380.7 137.0 Z" fill="#cacaca" stroke="#b0b0b0" stroke-width="0.3"/>
<text x="251" y="118.3" font-family='"Liberation Sans", sans-serif' font-size="3.6" fill="#e04040">Naive_Homeostatic (positively correlated)</text>
<text x="290" y="136.8" font-family='"Liberation Sans", sans-serif' font-size="3.6" fill="#555">Zero cross at 7596</text>
<text x="318.8" y="155" font-family='"Liberation Sans", sans-serif' font-size="3.4" fill="#3030d0">Naive_Natural? (negatively correlated)</text>
<text x="247.3" y="34.1" font-family='"Liberation Sans", sans-serif' font-size="3.4" fill="#444" text-anchor="end">0.1</text>
<text x="247.3" y="44.0" font-family='"Liberation Sans", sans-serif' font-size="3.4" fill="#444" text-anchor="end">0.0</text>
<text x="247.3" y="53.9" font-family='"Liberation Sans", sans-serif' font-size="3.4" fill="#444" text-anchor="end">-0.1</text>
<text x="247.3" y="63.8" font-family='"Liberation Sans", sans-serif' font-size="3.4" fill="#444" text-anchor="end">-0.2</text>
<text x="247.3" y="73.7" font-family='"Liberation Sans", sans-serif' font-size="3.4" fill="#444" text-anchor="end">-0.3</text>
<text x="247.3" y="83.6" font-family='"Liberation Sans", sans-serif' font-size="3.4" fill="#444" text-anchor="end">-0.4</text>
<text x="247.3" y="118.2" font-family='"Liberation Sans", sans-serif' font-size="3.4" fill="#444" text-anchor="end">4</text>
<text x="247.3" y="123.8" font-family='"Liberation Sans", sans-serif' font-size="3.4" fill="#444" text-anchor="end">3</text>
<text x="247.3" y="129.4" font-family='"Liberation Sans", sans-serif' font-size="3.4" fill="#444" text-anchor="end">2</text>
<text x="247.3" y="135.0" font-family='"Liberation Sans", sans-serif' font-size="3.4" fill="#444" text-anchor="end">1</text>
<text x="247.3" y="140.6" font-family='"Liberation Sans", sans-serif' font-size="3.4" fill="#444" text-anchor="end">0</text>
<text x="247.3" y="146.2" font-family='"Liberation Sans", sans-serif' font-size="3.4" fill="#444" text-anchor="end">-1</text>
<text x="247.3" y="151.8" font-family='"Liberation Sans", sans-serif' font-size="3.4" fill="#444" text-anchor="end">-2</text>
<text x="249.5" y="161" font-family='"Liberation Sans", sans-serif' font-size="3.5" fill="#444" text-anchor="middle">0</text>
<text x="268.8" y="161" font-family='"Liberation Sans", sans-serif' font-size="3.5" fill="#444" text-anchor="middle">2,500</text>
<text x="286.5" y="161" font-family='"Liberation Sans", sans-serif' font-size="3.5" fill="#444" text-anchor="middle">5,000</text>
<text x="304.5" y="161" font-family='"Liberation Sans", sans-serif' font-size="3.5" fill="#444" text-anchor="middle">7,500</text>
<text x="322.5" y="161" font-family='"Liberation Sans", sans-serif' font-size="3.5" fill="#444" text-anchor="middle">10,000</text>
<text x="339.8" y="161" font-family='"Liberation Sans", sans-serif' font-size="3.5" fill="#444" text-anchor="middle">12,500</text>
<text x="356.4" y="161" font-family='"Liberation Sans", sans-serif' font-size="3.5" fill="#444" text-anchor="middle">15,000</text>
<text x="374.4" y="161" font-family='"Liberation Sans", sans-serif' font-size="3.5" fill="#444" text-anchor="middle">17,500</text>
<text x="318.6" y="165.8" font-family='"Liberation Sans", sans-serif' font-size="4.3" font-weight="bold" fill="#333" text-anchor="middle">Rank in Ordered Dataset</text>
<text transform="translate(238.9,57.5) rotate(-90)" font-family='"Liberation Sans", sans-serif' font-size="3.6" fill="#444" text-anchor="middle">Enrichment score (ES)</text>
<text transform="translate(241.8,136) rotate(-90)" font-family='"Liberation Sans", sans-serif' font-size="3.9" fill="#444" text-anchor="middle">Ranked list metric (Signal2Noise)</text>
<rect x="254.2" y="169.6" width="111.5" height="6.4" fill="#fff" stroke="#555" stroke-width="0.6"/>
<path d="M256.5 172.8H262" stroke="#3fe03f" stroke-width="0.8"/>
<text x="263" y="174.4" font-family='"Liberation Sans", sans-serif' font-size="4.3" fill="#333">Enrichment profile</text>
<path d="M300 172.8H305" stroke="#333" stroke-width="0.6"/>
<text x="306" y="174.4" font-family='"Liberation Sans", sans-serif' font-size="4.3" fill="#333">Hits</text>
<path d="M318 172.8H323" stroke="#bbb" stroke-width="0.8"/>
<text x="325" y="174.4" font-family='"Liberation Sans", sans-serif' font-size="4.3" fill="#333">Ranking metric scores</text>
<text x="255.8" y="63.8" font-family='"Liberation Sans", sans-serif' font-size="20.5" fill="#0a0a0a">T</text>
<text x="268.0" y="69.6" font-family='"Liberation Sans", sans-serif' font-size="14.6" fill="#0a0a0a">(TN)</text>
<text x="342.8" y="63.6" font-family='"Liberation Sans", sans-serif' font-size="20.5" fill="#0a0a0a">T</text>
<text x="355.2" y="69.2" font-family='"Liberation Sans", sans-serif' font-size="14.2" fill="#0a0a0a">N</text>
<defs><linearGradient id="gbl" x1="0" y1="0" x2="0" y2="1"><stop offset="0" stop-color="#78a2e4"/><stop offset="1" stop-color="#3e72c8"/></linearGradient><linearGradient id="grd" x1="0" y1="0" x2="0" y2="1"><stop offset="0" stop-color="#ec8c88"/><stop offset="1" stop-color="#d2403c"/></linearGradient><linearGradient id="ggr" x1="0" y1="0" x2="0" y2="1"><stop offset="0" stop-color="#c8e28c"/><stop offset="1" stop-color="#9cc450"/></linearGradient><linearGradient id="gpu" x1="0" y1="0" x2="0" y2="1"><stop offset="0" stop-color="#a28ac8"/><stop offset="1" stop-color="#6e4ea0"/></linearGradient><linearGradient id="gaq" x1="0" y1="0" x2="0" y2="1"><stop offset="0" stop-color="#7ed0ea"/><stop offset="1" stop-color="#38a8cc"/></linearGradient><linearGradient id="gor" x1="0" y1="0" x2="0" y2="1"><stop offset="0" stop-color="#ffb070"/><stop offset="1" stop-color="#f48a34"/></linearGradient><linearGradient id="grds" x1="0" y1="0" x2="0" y2="1"><stop offset="0" stop-color="#8a2220"/><stop offset="1" stop-color="#5c1010"/></linearGradient><linearGradient id="ggrs" x1="0" y1="0" x2="0" y2="1"><stop offset="0" stop-color="#78a040"/><stop offset="1" stop-color="#4e6e24"/></linearGradient><linearGradient id="gpus" x1="0" y1="0" x2="0" y2="1"><stop offset="0" stop-color="#5e4484"/><stop offset="1" stop-color="#4a3270"/></linearGradient></defs>
<path d="M341.80 266.00 A70.5 33.5 0 0 1 271.30 299.50 L271.30 315.80 A70.5 33.5 0 0 0 341.80 282.30 Z" fill="url(#grds)"/>
<path d="M268.40 299.50 A70.5 33.5 0 0 1 198.77 271.24 L198.77 287.54 A70.5 33.5 0 0 0 268.40 315.80 Z" fill="url(#ggrs)"/>
<path d="M198.77 271.24 A70.5 33.5 0 0 1 197.90 266.00 L197.90 282.30 A70.5 33.5 0 0 0 198.77 287.54 Z" fill="url(#gpus)"/>
<path d="M271.30 260.00 L271.30 232.50 A70.5 33.5 0 0 1 341.80 266.00 Z" fill="url(#gbl)" stroke="#1c2240" stroke-opacity="0.6" stroke-width="0.7" stroke-linejoin="round"/>
<path d="M271.30 260.00 L341.80 266.00 A70.5 33.5 0 0 1 271.30 299.50 Z" fill="url(#grd)" stroke="#1c2240" stroke-opacity="0.6" stroke-width="0.7" stroke-linejoin="round"/>
<path d="M268.40 260.00 L268.40 299.50 A70.5 33.5 0 0 1 198.77 271.24 Z" fill="url(#ggr)" stroke="#1c2240" stroke-opacity="0.6" stroke-width="0.7" stroke-linejoin="round"/>
<path d="M268.40 260.00 L198.77 271.24 A70.5 33.5 0 0 1 220.32 241.50 Z" fill="url(#gpu)" stroke="#1c2240" stroke-opacity="0.6" stroke-width="0.7" stroke-linejoin="round"/>
<path d="M268.40 260.00 L220.32 241.50 A70.5 33.5 0 0 1 257.37 232.91 Z" fill="url(#gaq)" stroke="#1c2240" stroke-opacity="0.6" stroke-width="0.7" stroke-linejoin="round"/>
<path d="M268.40 260.00 L257.37 232.91 A70.5 33.5 0 0 1 268.40 232.50 Z" fill="url(#gor)" stroke="#1c2240" stroke-opacity="0.6" stroke-width="0.7" stroke-linejoin="round"/>
<rect x="267.4" y="259.6" width="1.6" height="13" fill="#3c4a30"/>
<rect x="350.8" y="218.9" width="6.4" height="6.2" fill="#4f81bd"/>
<text x="369.6" y="225.6" font-family='"Liberation Sans", sans-serif' font-size="10.4" fill="#111" stroke="#111" stroke-width="0.1">Response to stimulus</text>
<rect x="350.8" y="238.0" width="6.4" height="6.2" fill="#c0504d"/>
<text x="369.6" y="244.7" font-family='"Liberation Sans", sans-serif' font-size="10.4" fill="#111" stroke="#111" stroke-width="0.1">Regulation of biological process</text>
<rect x="350.8" y="257.1" width="6.4" height="6.2" fill="#9bbb59"/>
<text x="369.6" y="263.8" font-family='"Liberation Sans", sans-serif' font-size="10.4" fill="#111" stroke="#111" stroke-width="0.1">Regulation of cellular process</text>
<rect x="350.8" y="276.1" width="6.4" height="6.2" fill="#8064a2"/>
<text x="369.6" y="282.8" font-family='"Liberation Sans", sans-serif' font-size="10.4" fill="#111" stroke="#111" stroke-width="0.1">Immune system process</text>
<rect x="350.8" y="295.2" width="6.4" height="6.2" fill="#4bacc6"/>
<text x="369.6" y="301.9" font-family='"Liberation Sans", sans-serif' font-size="10.4" fill="#111" stroke="#111" stroke-width="0.1">Signal transduction</text>
<rect x="350.8" y="314.3" width="6.4" height="6.2" fill="#f79646"/>
<text x="369.6" y="321.0" font-family='"Liberation Sans", sans-serif' font-size="10.4" fill="#111" stroke="#111" stroke-width="0.1">Cell communication</text>
<path d="M199.4 347.6H448.4 M199.4 371.8H448.4" stroke="#6a6a6a" stroke-width="1.2"/>
<path d="M199.4 562.4H448.4" stroke="#8a8a8a" stroke-width="2"/>
<text x="268.1" y="361.9" font-family='"Liberation Sans", sans-serif' font-weight="bold" font-size="11.1" fill="#111">Pathway</text>
<text x="395.8" y="361.2" font-family='"Liberation Sans", sans-serif' font-weight="bold" font-size="7.1" fill="#111" text-anchor="middle">NES</text>
<text x="429.3" y="357.3" font-family='"Liberation Sans", sans-serif' font-weight="bold" font-size="7.4" fill="#111" text-anchor="middle">FDR</text>
<text x="429.3" y="365.5" font-family='"Liberation Sans", sans-serif' font-weight="bold" font-size="7.1" fill="#111" text-anchor="middle">q-value</text>
<text x="200.2" y="383.0" font-family='"Liberation Sans", sans-serif' font-size="8.0" fill="#000" stroke="#000" stroke-width="0.12">Cytokines and inflammatory response</text>
<text x="395.8" y="383.0" font-family='"Liberation Sans", sans-serif' font-size="6.4" fill="#000" stroke="#000" stroke-width="0.08" text-anchor="middle">-3.15</text>
<text x="429.1" y="383.0" font-family='"Liberation Sans", sans-serif' font-size="6.4" fill="#000" stroke="#000" stroke-width="0.08" text-anchor="middle">0</text>
<text x="200.2" y="397.8" font-family='"Liberation Sans", sans-serif' font-size="8.0" fill="#000" stroke="#000" stroke-width="0.12">Expression of chemokine<tspan font-size="8.0" dy="1.3"> receptors during T-cell</tspan></text>
<text x="200.2" y="408.2" font-family='"Liberation Sans", sans-serif' font-size="8.0" fill="#000" stroke="#000" stroke-width="0.12">polarization</text>
<text x="395.8" y="402.0" font-family='"Liberation Sans", sans-serif' font-size="6.4" fill="#000" stroke="#000" stroke-width="0.08" text-anchor="middle">-2.57</text>
<text x="429.1" y="402.0" font-family='"Liberation Sans", sans-serif' font-size="6.4" fill="#000" stroke="#000" stroke-width="0.08" text-anchor="middle">0.005</text>
<text x="200.2" y="421.2" font-family='"Liberation Sans", sans-serif' font-size="8.0" fill="#000" stroke="#000" stroke-width="0.12">Cytokine network</text>
<text x="395.8" y="421.2" font-family='"Liberation Sans", sans-serif' font-size="6.4" fill="#000" stroke="#000" stroke-width="0.08" text-anchor="middle">-2.40</text>
<text x="429.1" y="421.2" font-family='"Liberation Sans", sans-serif' font-size="6.4" fill="#000" stroke="#000" stroke-width="0.08" text-anchor="middle">0.013</text>
<text x="200.2" y="440.1" font-family='"Liberation Sans", sans-serif' font-size="8.0" fill="#000" stroke="#000" stroke-width="0.12">Th1/Th2 differentiation</text>
<text x="395.8" y="440.1" font-family='"Liberation Sans", sans-serif' font-size="6.4" fill="#000" stroke="#000" stroke-width="0.08" text-anchor="middle">-2.30</text>
<text x="429.1" y="440.1" font-family='"Liberation Sans", sans-serif' font-size="6.4" fill="#000" stroke="#000" stroke-width="0.08" text-anchor="middle">0.019</text>
<text x="200.2" y="456.5" font-family='"Liberation Sans", sans-serif' font-size="8.0" fill="#000" stroke="#000" stroke-width="0.12">Molecules involved in local acute inflammatory</text>
<text x="200.2" y="465.6" font-family='"Liberation Sans", sans-serif' font-size="8.0" fill="#000" stroke="#000" stroke-width="0.12">response</text>
<text x="395.8" y="459.5" font-family='"Liberation Sans", sans-serif' font-size="6.4" fill="#000" stroke="#000" stroke-width="0.08" text-anchor="middle">-2.15</text>
<text x="429.1" y="459.5" font-family='"Liberation Sans", sans-serif' font-size="6.4" fill="#000" stroke="#000" stroke-width="0.08" text-anchor="middle">0.036</text>
<text x="200.2" y="478.3" font-family='"Liberation Sans", sans-serif' font-size="8.0" fill="#000" stroke="#000" stroke-width="0.12">Rho cell motility signaling pathway</text>
<text x="395.8" y="478.3" font-family='"Liberation Sans", sans-serif' font-size="6.4" fill="#000" stroke="#000" stroke-width="0.08" text-anchor="middle">-2.15</text>
<text x="429.1" y="478.3" font-family='"Liberation Sans", sans-serif' font-size="6.4" fill="#000" stroke="#000" stroke-width="0.08" text-anchor="middle">0.041</text>
<text x="200.2" y="492.1" font-family='"Liberation Sans", sans-serif' font-size="8.0" fill="#000" stroke="#000" stroke-width="0.12">Dendritic<tspan font-size="8.0" dy="2.6"> cells in regulating TH1 and TH2</tspan></text>
<text x="200.2" y="503.8" font-family='"Liberation Sans", sans-serif' font-size="8.0" fill="#000" stroke="#000" stroke-width="0.12">development</text>
<text x="395.8" y="497.8" font-family='"Liberation Sans", sans-serif' font-size="6.4" fill="#000" stroke="#000" stroke-width="0.08" text-anchor="middle">-2.02</text>
<text x="429.1" y="497.8" font-family='"Liberation Sans", sans-serif' font-size="6.4" fill="#000" stroke="#000" stroke-width="0.08" text-anchor="middle">0.060</text>
<text x="200.2" y="516.8" font-family='"Liberation Sans", sans-serif' font-size="8.0" fill="#000" stroke="#000" stroke-width="0.12">Regulation of hematopoiesis by cytokines</text>
<text x="395.8" y="517.0" font-family='"Liberation Sans", sans-serif' font-size="6.4" fill="#000" stroke="#000" stroke-width="0.08" text-anchor="middle">-2.03</text>
<text x="429.1" y="517.0" font-family='"Liberation Sans", sans-serif' font-size="6.4" fill="#000" stroke="#000" stroke-width="0.08" text-anchor="middle">0.067</text>
<text x="200.2" y="535.5" font-family='"Liberation Sans", sans-serif' font-size="8.0" fill="#000" stroke="#000" stroke-width="0.12">TNFR2 signaling pathway</text>
<text x="395.8" y="535.7" font-family='"Liberation Sans", sans-serif' font-size="6.4" fill="#000" stroke="#000" stroke-width="0.08" text-anchor="middle">-1.98</text>
<text x="429.1" y="535.7" font-family='"Liberation Sans", sans-serif' font-size="6.4" fill="#000" stroke="#000" stroke-width="0.08" text-anchor="middle">0.069</text>
<text x="200.2" y="554.9" font-family='"Liberation Sans", sans-serif' font-size="8.0" fill="#000" stroke="#000" stroke-width="0.12">Regulation of PGC-1a</text>
<text x="395.8" y="554.8" font-family='"Liberation Sans", sans-serif' font-size="6.4" fill="#000" stroke="#000" stroke-width="0.08" text-anchor="middle">-1.78</text>
<text x="429.1" y="554.8" font-family='"Liberation Sans", sans-serif' font-size="6.4" fill="#000" stroke="#000" stroke-width="0.08" text-anchor="middle">0.168</text>
<rect x="32.3" y="644.6" width="49.2" height="49.2" fill="#fff" stroke="#cfcfcf" stroke-width="0.8"/>
<polyline points="32.90,692.99 33.30,692.99 33.70,692.97 34.10,692.93 34.50,692.87 34.90,692.75 35.30,692.53 35.70,692.16 36.10,691.55 36.50,690.61 36.90,689.22 37.30,687.25 37.70,684.59 38.10,681.18 38.50,677.05 38.90,672.31 39.30,667.22 39.70,662.14 40.10,657.50 40.50,653.77 40.90,651.34 41.30,650.50 41.70,651.14 42.10,652.99 42.50,655.91 42.90,659.63 43.30,663.88 43.70,668.34 44.10,672.74 44.50,676.85 44.90,680.51 45.30,683.63 45.70,686.18 46.10,688.18 46.50,689.70 46.90,690.81 47.30,691.59 47.70,692.11 48.10,692.46 48.50,692.68 48.90,692.82 49.30,692.90 49.70,692.95 50.10,692.97 50.50,692.99 50.90,692.99 51.30,693.00 51.70,693.00 52.10,693.00 52.50,693.00 52.90,693.00 53.30,693.00 53.70,693.00 54.10,693.00 54.50,693.00 54.90,693.00 55.30,693.00 55.70,693.00 56.10,693.00 56.50,693.00 56.90,693.00 57.30,693.00 57.70,693.00 58.10,693.00 58.50,693.00 58.90,693.00 59.30,693.00 59.70,693.00 60.10,693.00 60.50,693.00 60.90,693.00 61.30,693.00 61.70,693.00 62.10,693.00 62.50,693.00 62.90,693.00 63.30,693.00 63.70,693.00 64.10,693.00 64.50,693.00 64.90,693.00 65.30,693.00 65.70,693.00 66.10,693.00 66.50,693.00 66.90,693.00 67.30,693.00 67.70,693.00 68.10,693.00 68.50,693.00 68.90,693.00 69.30,693.00 69.70,693.00 70.10,693.00 70.50,693.00 70.90,693.00 71.30,693.00 71.70,693.00 72.10,693.00 72.50,693.00 72.90,693.00 73.30,693.00 73.70,693.00 74.10,693.00 74.50,693.00 74.90,693.00 75.30,693.00 75.70,693.00 76.10,693.00 76.50,693.00 76.90,693.00 77.30,693.00 77.70,693.00 78.10,693.00 78.50,693.00 78.90,693.00 79.30,693.00 79.70,693.00 80.10,693.00 80.50,693.00 80.90,693.00" fill="none" stroke="#b8b8b8" stroke-width="1.15"/>
<polyline points="33.0,689.2 34.2,686.5 35.4,683.0 36.6,677.5 37.7,670.8 38.9,662.0 40.0,653.8 41.0,649.3 42.0,647.7 43.0,649.3 43.8,652.3 44.8,660.0 45.7,670.8 46.3,677.0 46.9,681.5 47.7,683.8 48.5,684.7 49.6,685.1 50.8,685.4 52.0,686.3 53.1,687.7 54.3,690.0 55.4,692.3 56.5,693.0 57.7,693.1 81.0,693.1" fill="none" stroke="#111" stroke-width="1.3" stroke-linejoin="round"/>
<text x="31.0" y="648.2" font-family='"Liberation Sans", sans-serif' font-size="2.7" font-weight="bold" fill="#333" text-anchor="end">100</text>
<text x="31.0" y="657.3" font-family='"Liberation Sans", sans-serif' font-size="2.7" font-weight="bold" fill="#333" text-anchor="end">80</text>
<text x="31.0" y="666.5" font-family='"Liberation Sans", sans-serif' font-size="2.7" font-weight="bold" fill="#333" text-anchor="end">60</text>
<text x="31.0" y="675.6" font-family='"Liberation Sans", sans-serif' font-size="2.7" font-weight="bold" fill="#333" text-anchor="end">40</text>
<text x="31.0" y="684.8" font-family='"Liberation Sans", sans-serif' font-size="2.7" font-weight="bold" fill="#333" text-anchor="end">20</text>
<text x="31.0" y="693.9" font-family='"Liberation Sans", sans-serif' font-size="2.7" font-weight="bold" fill="#333" text-anchor="end">0</text>
<text x="40.2" y="697.6" font-family='"Liberation Sans", sans-serif' font-size="2.7" fill="#666" text-anchor="middle">0 10²</text>
<text x="51.7" y="697.6" font-family='"Liberation Sans", sans-serif' font-size="2.7" fill="#666" text-anchor="middle">10³</text>
<text x="63.3" y="697.6" font-family='"Liberation Sans", sans-serif' font-size="2.7" fill="#666" text-anchor="middle">10⁴</text>
<text x="74.9" y="697.6" font-family='"Liberation Sans", sans-serif' font-size="2.7" fill="#666" text-anchor="middle">10⁵</text>
<path d="M48.5 672.8H77.7 M48.5 671.5V674.1 M77.7 671.5V674.1" stroke="#333" stroke-width="0.7"/>
<text x="63.1" y="671.8" font-family='"Liberation Sans", sans-serif' font-size="4.9" font-weight="bold" fill="#000" text-anchor="middle">10.3</text>
<text x="51.9" y="633.9" font-family='"Liberation Sans", sans-serif' font-size="12" fill="#111">T<tspan font-size="8.4" dy="3.7">N</tspan></text>
<rect x="88.1" y="644.6" width="49.2" height="49.2" fill="#fff" stroke="#cfcfcf" stroke-width="0.8"/>
<polyline points="88.70,693.00 89.10,692.99 89.50,692.98 89.90,692.95 90.30,692.91 90.70,692.81 91.10,692.65 91.50,692.36 91.90,691.88 92.30,691.11 92.70,689.95 93.10,688.26 93.50,685.93 93.90,682.87 94.30,679.05 94.70,674.55 95.10,669.54 95.50,664.35 95.90,659.38 96.30,655.09 96.70,651.93 97.10,650.26 97.50,650.26 97.90,651.93 98.30,655.09 98.70,659.38 99.10,664.35 99.50,669.54 99.90,674.55 100.30,679.05 100.70,682.87 101.10,685.93 101.50,688.26 101.90,689.95 102.30,691.11 102.70,691.88 103.10,692.36 103.50,692.65 103.90,692.81 104.30,692.91 104.70,692.95 105.10,692.98 105.50,692.99 105.90,693.00 106.30,693.00 106.70,693.00 107.10,693.00 107.50,693.00 107.90,693.00 108.30,693.00 108.70,693.00 109.10,693.00 109.50,693.00 109.90,693.00 110.30,693.00 110.70,693.00 111.10,693.00 111.50,693.00 111.90,693.00 112.30,693.00 112.70,693.00 113.10,693.00 113.50,693.00 113.90,693.00 114.30,693.00 114.70,693.00 115.10,693.00 115.50,693.00 115.90,693.00 116.30,693.00 116.70,693.00 117.10,693.00 117.50,693.00 117.90,693.00 118.30,693.00 118.70,693.00 119.10,693.00 119.50,693.00 119.90,693.00 120.30,693.00 120.70,693.00 121.10,693.00 121.50,693.00 121.90,693.00 122.30,693.00 122.70,693.00 123.10,693.00 123.50,693.00 123.90,693.00 124.30,693.00 124.70,693.00 125.10,693.00 125.50,693.00 125.90,693.00 126.30,693.00 126.70,693.00 127.10,693.00 127.50,693.00 127.90,693.00 128.30,693.00 128.70,693.00 129.10,693.00 129.50,693.00 129.90,693.00 130.30,693.00 130.70,693.00 131.10,693.00 131.50,693.00 131.90,693.00 132.30,693.00 132.70,693.00 133.10,693.00 133.50,693.00 133.90,693.00 134.30,693.00 134.70,693.00 135.10,693.00 135.50,693.00 135.90,693.00 136.30,693.00 136.70,693.00" fill="none" stroke="#b8b8b8" stroke-width="1.15"/>
<polyline points="88.70,693.00 89.10,693.00 89.50,693.00 89.90,693.00 90.30,693.00 90.70,693.00 91.10,693.00 91.50,693.00 91.90,693.00 92.30,693.00 92.70,693.00 93.10,693.00 93.50,693.00 93.90,693.00 94.30,693.00 94.70,693.00 95.10,693.00 95.50,693.00 95.90,693.00 96.30,693.00 96.70,693.00 97.10,693.00 97.50,693.00 97.90,693.00 98.30,693.00 98.70,693.00 99.10,693.00 99.50,693.00 99.90,693.00 100.30,693.00 100.70,693.00 101.10,693.00 101.50,693.00 101.90,693.00 102.30,693.00 102.70,693.00 103.10,693.00 103.50,693.00 103.90,693.00 104.30,693.00 104.70,693.00 105.10,693.00 105.50,693.00 105.90,693.00 106.30,693.00 106.70,693.00 107.10,693.00 107.50,693.00 107.90,693.00 108.30,693.00 108.70,693.00 109.10,693.00 109.50,693.00 109.90,692.99 110.30,692.98 110.70,692.94 111.10,692.88 111.50,692.75 111.90,692.49 112.30,692.04 112.70,691.26 113.10,690.00 113.50,688.08 113.90,685.32 114.30,681.60 114.70,676.90 115.10,671.35 115.50,665.28 115.90,659.23 116.30,653.84 116.70,649.77 117.10,647.58 117.50,647.58 117.90,649.77 118.30,653.84 118.70,659.23 119.10,665.28 119.50,671.35 119.90,676.90 120.30,681.60 120.70,685.32 121.10,688.08 121.50,690.00 121.90,691.26 122.30,692.04 122.70,692.49 123.10,692.75 123.50,692.88 123.90,692.94 124.30,692.98 124.70,692.99 125.10,693.00 125.50,693.00 125.90,693.00 126.30,693.00 126.70,693.00 127.10,693.00 127.50,693.00 127.90,693.00 128.30,693.00 128.70,693.00 129.10,693.00 129.50,693.00 129.90,693.00 130.30,693.00 130.70,693.00 131.10,693.00 131.50,693.00 131.90,693.00 132.30,693.00 132.70,693.00 133.10,693.00 133.50,693.00 133.90,693.00 134.30,693.00 134.70,693.00 135.10,693.00 135.50,693.00 135.90,693.00 136.30,693.00 136.70,693.00" fill="none" stroke="#111" stroke-width="1.3"/>
<text x="86.8" y="648.2" font-family='"Liberation Sans", sans-serif' font-size="2.7" font-weight="bold" fill="#333" text-anchor="end">100</text>
<text x="86.8" y="657.3" font-family='"Liberation Sans", sans-serif' font-size="2.7" font-weight="bold" fill="#333" text-anchor="end">80</text>
<text x="86.8" y="666.5" font-family='"Liberation Sans", sans-serif' font-size="2.7" font-weight="bold" fill="#333" text-anchor="end">60</text>
<text x="86.8" y="675.6" font-family='"Liberation Sans", sans-serif' font-size="2.7" font-weight="bold" fill="#333" text-anchor="end">40</text>
<text x="86.8" y="684.8" font-family='"Liberation Sans", sans-serif' font-size="2.7" font-weight="bold" fill="#333" text-anchor="end">20</text>
<text x="86.8" y="693.9" font-family='"Liberation Sans", sans-serif' font-size="2.7" font-weight="bold" fill="#333" text-anchor="end">0</text>
<text x="96.0" y="697.6" font-family='"Liberation Sans", sans-serif' font-size="2.7" fill="#666" text-anchor="middle">0 10²</text>
<text x="107.5" y="697.6" font-family='"Liberation Sans", sans-serif' font-size="2.7" fill="#666" text-anchor="middle">10³</text>
<text x="119.1" y="697.6" font-family='"Liberation Sans", sans-serif' font-size="2.7" fill="#666" text-anchor="middle">10⁴</text>
<text x="130.7" y="697.6" font-family='"Liberation Sans", sans-serif' font-size="2.7" fill="#666" text-anchor="middle">10⁵</text>
<path d="M101.2 673.4H132.7 M101.2 672.1V674.7 M132.7 672.1V674.7" stroke="#333" stroke-width="0.7"/>
<text x="116.9" y="672.4" font-family='"Liberation Sans", sans-serif' font-size="4.9" font-weight="bold" fill="#000" text-anchor="middle">100</text>
<text x="101.9" y="633.0" font-family='"Liberation Sans", sans-serif' font-size="12" fill="#111">T<tspan font-size="8.4" dy="4.8">(TN)</tspan></text>
<rect x="143.2" y="644.6" width="48.8" height="49.2" fill="#fff" stroke="#cfcfcf" stroke-width="0.8"/>
<polyline points="143.80,693.00 144.20,693.00 144.59,693.00 144.99,692.99 145.39,692.97 145.78,692.94 146.18,692.88 146.58,692.76 146.97,692.54 147.37,692.16 147.77,691.52 148.16,690.52 148.56,689.00 148.96,686.83 149.35,683.89 149.75,680.13 150.15,675.59 150.54,670.44 150.94,665.03 151.34,659.79 151.73,655.26 152.13,651.93 152.53,650.22 152.92,650.34 153.32,652.27 153.72,655.77 154.11,660.42 154.51,665.71 154.91,671.12 155.30,676.20 155.70,680.65 156.10,684.31 156.49,687.15 156.89,689.22 157.29,690.67 157.68,691.62 158.08,692.22 158.48,692.58 158.87,692.78 159.27,692.89 159.67,692.95 160.06,692.98 160.46,692.99 160.86,693.00 161.25,693.00 161.65,693.00 162.05,693.00 162.44,693.00 162.84,693.00 163.24,693.00 163.63,693.00 164.03,693.00 164.43,693.00 164.82,693.00 165.22,693.00 165.62,693.00 166.01,693.00 166.41,693.00 166.81,693.00 167.20,693.00 167.60,693.00 168.00,693.00 168.39,693.00 168.79,693.00 169.19,693.00 169.58,693.00 169.98,693.00 170.38,693.00 170.77,693.00 171.17,693.00 171.57,693.00 171.96,693.00 172.36,693.00 172.76,693.00 173.15,693.00 173.55,693.00 173.95,693.00 174.34,693.00 174.74,693.00 175.14,693.00 175.53,693.00 175.93,693.00 176.33,693.00 176.72,693.00 177.12,693.00 177.52,693.00 177.91,693.00 178.31,693.00 178.71,693.00 179.10,693.00 179.50,693.00 179.90,693.00 180.29,693.00 180.69,693.00 181.09,693.00 181.48,693.00 181.88,693.00 182.28,693.00 182.67,693.00 183.07,693.00 183.47,693.00 183.86,693.00 184.26,693.00 184.66,693.00 185.05,693.00 185.45,693.00 185.85,693.00 186.24,693.00 186.64,693.00 187.04,693.00 187.43,693.00 187.83,693.00 188.23,693.00 188.62,693.00 189.02,693.00 189.42,693.00 189.81,693.00 190.21,693.00 190.61,693.00 191.00,693.00 191.40,693.00" fill="none" stroke="#b8b8b8" stroke-width="1.15"/>
<polyline points="143.80,692.82 144.20,692.77 144.59,692.71 144.99,692.63 145.39,692.54 145.78,692.43 146.18,692.31 146.58,692.17 146.97,692.02 147.37,691.86 147.77,691.68 148.16,691.49 148.56,691.31 148.96,691.12 149.35,690.93 149.75,690.76 150.15,690.60 150.54,690.46 150.94,690.34 151.34,690.25 151.73,690.18 152.13,690.14 152.53,690.11 152.92,690.09 153.32,690.08 153.72,690.05 154.11,690.00 154.51,689.91 154.91,689.75 155.30,689.49 155.70,689.13 156.10,688.62 156.49,687.94 156.89,687.07 157.29,685.98 157.68,684.66 158.08,683.08 158.48,681.23 158.87,679.13 159.27,676.77 159.67,674.19 160.06,671.42 160.46,668.51 160.86,665.50 161.25,662.49 161.65,659.53 162.05,656.73 162.44,654.15 162.84,651.89 163.24,650.01 163.63,648.59 164.03,647.68 164.43,647.30 164.82,647.95 165.22,650.46 165.62,654.55 166.01,659.72 166.41,665.43 166.81,671.13 167.20,676.39 167.60,680.93 168.00,684.60 168.39,687.40 168.79,689.43 169.19,690.82 169.58,691.72 169.98,692.29 170.38,692.62 170.77,692.80 171.17,692.90 171.57,692.95 171.96,692.98 172.36,692.99 172.76,693.00 173.15,693.00 173.55,693.00 173.95,693.00 174.34,693.00 174.74,693.00 175.14,693.00 175.53,693.00 175.93,693.00 176.33,693.00 176.72,693.00 177.12,693.00 177.52,693.00 177.91,693.00 178.31,693.00 178.71,693.00 179.10,693.00 179.50,693.00 179.90,693.00 180.29,693.00 180.69,693.00 181.09,693.00 181.48,693.00 181.88,693.00 182.28,693.00 182.67,693.00 183.07,693.00 183.47,693.00 183.86,693.00 184.26,693.00 184.66,693.00 185.05,693.00 185.45,693.00 185.85,693.00 186.24,693.00 186.64,693.00 187.04,693.00 187.43,693.00 187.83,693.00 188.23,693.00 188.62,693.00 189.02,693.00 189.42,693.00 189.81,693.00 190.21,693.00 190.61,693.00 191.00,693.00 191.40,693.00" fill="none" stroke="#111" stroke-width="1.3"/>
<text x="141.9" y="648.2" font-family='"Liberation Sans", sans-serif' font-size="2.7" font-weight="bold" fill="#333" text-anchor="end">100</text>
<text x="141.9" y="657.3" font-family='"Liberation Sans", sans-serif' font-size="2.7" font-weight="bold" fill="#333" text-anchor="end">80</text>
<text x="141.9" y="666.5" font-family='"Liberation Sans", sans-serif' font-size="2.7" font-weight="bold" fill="#333" text-anchor="end">60</text>
<text x="141.9" y="675.6" font-family='"Liberation Sans", sans-serif' font-size="2.7" font-weight="bold" fill="#333" text-anchor="end">40</text>
<text x="141.9" y="684.8" font-family='"Liberation Sans", sans-serif' font-size="2.7" font-weight="bold" fill="#333" text-anchor="end">20</text>
<text x="141.9" y="693.9" font-family='"Liberation Sans", sans-serif' font-size="2.7" font-weight="bold" fill="#333" text-anchor="end">0</text>
<text x="151.0" y="697.6" font-family='"Liberation Sans", sans-serif' font-size="2.7" fill="#666" text-anchor="middle">0 10²</text>
<text x="162.5" y="697.6" font-family='"Liberation Sans", sans-serif' font-size="2.7" fill="#666" text-anchor="middle">10³</text>
<text x="173.9" y="697.6" font-family='"Liberation Sans", sans-serif' font-size="2.7" fill="#666" text-anchor="middle">10⁴</text>
<text x="185.4" y="697.6" font-family='"Liberation Sans", sans-serif' font-size="2.7" fill="#666" text-anchor="middle">10⁵</text>
<path d="M159.1 672.3H188.2 M159.1 671.0V673.6 M188.2 671.0V673.6" stroke="#333" stroke-width="0.7"/>
<text x="173.6" y="671.3" font-family='"Liberation Sans", sans-serif' font-size="4.9" font-weight="bold" fill="#000" text-anchor="middle">89.2</text>
<text x="159.7" y="633.3" font-family='"Liberation Sans", sans-serif' font-size="12" fill="#111">T<tspan font-size="8.4" dy="3.5">CM</tspan></text>
<rect x="199.5" y="644.6" width="48.8" height="49.2" fill="#fff" stroke="#a8a8a8" stroke-width="0.8"/>
<polyline points="200.10,692.98 200.50,692.95 200.89,692.91 201.29,692.83 201.69,692.69 202.08,692.46 202.48,692.09 202.88,691.53 203.27,690.68 203.67,689.47 204.07,687.80 204.46,685.59 204.86,682.77 205.26,679.32 205.65,675.30 206.05,670.82 206.45,666.11 206.84,661.44 207.24,657.14 207.64,653.55 208.03,651.00 208.43,649.71 208.83,649.81 209.22,651.29 209.62,654.01 210.02,657.71 210.41,662.09 210.81,666.79 211.21,671.48 211.60,675.90 212.00,679.85 212.40,683.21 212.79,685.94 213.19,688.07 213.59,689.67 213.98,690.83 214.38,691.62 214.78,692.16 215.17,692.50 215.57,692.71 215.97,692.84 216.36,692.91 216.76,692.96 217.16,692.98 217.55,692.99 217.95,692.99 218.35,693.00 218.74,693.00 219.14,693.00 219.54,693.00 219.93,693.00 220.33,693.00 220.73,693.00 221.12,693.00 221.52,693.00 221.92,693.00 222.31,693.00 222.71,693.00 223.11,693.00 223.50,693.00 223.90,693.00 224.30,693.00 224.69,693.00 225.09,693.00 225.49,693.00 225.88,693.00 226.28,693.00 226.68,693.00 227.07,693.00 227.47,693.00 227.87,693.00 228.26,693.00 228.66,693.00 229.06,693.00 229.45,693.00 229.85,693.00 230.25,693.00 230.64,693.00 231.04,693.00 231.44,693.00 231.83,693.00 232.23,693.00 232.63,693.00 233.02,693.00 233.42,693.00 233.82,693.00 234.21,693.00 234.61,693.00 235.01,693.00 235.40,693.00 235.80,693.00 236.20,693.00 236.59,693.00 236.99,693.00 237.39,693.00 237.78,693.00 238.18,693.00 238.58,693.00 238.97,693.00 239.37,693.00 239.77,693.00 240.16,693.00 240.56,693.00 240.96,693.00 241.35,693.00 241.75,693.00 242.15,693.00 242.54,693.00 242.94,693.00 243.34,693.00 243.73,693.00 244.13,693.00 244.53,693.00 244.92,693.00 245.32,693.00 245.72,693.00 246.11,693.00 246.51,693.00 246.91,693.00 247.30,693.00 247.70,693.00" fill="none" stroke="#b8b8b8" stroke-width="1.15"/>
<polyline points="200.10,693.00 200.50,693.00 200.89,693.00 201.29,693.00 201.69,693.00 202.08,693.00 202.48,693.00 202.88,693.00 203.27,693.00 203.67,693.00 204.07,693.00 204.46,693.00 204.86,693.00 205.26,693.00 205.65,693.00 206.05,693.00 206.45,693.00 206.84,693.00 207.24,693.00 207.64,693.00 208.03,693.00 208.43,693.00 208.83,693.00 209.22,693.00 209.62,693.00 210.02,693.00 210.41,693.00 210.81,693.00 211.21,693.00 211.60,693.00 212.00,693.00 212.40,693.00 212.79,693.00 213.19,693.00 213.59,693.00 213.98,693.00 214.38,693.00 214.78,693.00 215.17,693.00 215.57,693.00 215.97,693.00 216.36,693.00 216.76,693.00 217.16,693.00 217.55,693.00 217.95,693.00 218.35,693.00 218.74,693.00 219.14,693.00 219.54,693.00 219.93,693.00 220.33,693.00 220.73,693.00 221.12,693.00 221.52,692.99 221.92,692.98 222.31,692.95 222.71,692.90 223.11,692.80 223.50,692.62 223.90,692.32 224.30,691.81 224.69,691.01 225.09,689.79 225.49,688.03 225.88,685.60 226.28,682.41 226.68,678.42 227.07,673.71 227.47,668.46 227.87,662.98 228.26,657.69 228.66,653.08 229.06,649.60 229.45,647.65 229.85,647.43 230.25,648.98 230.64,652.11 231.04,656.49 231.44,661.65 231.83,667.13 232.23,672.47 232.63,677.34 233.02,681.51 233.42,684.90 233.82,687.51 234.21,689.42 234.61,690.76 235.01,691.65 235.40,692.22 235.80,692.56 236.20,692.77 236.59,692.88 236.99,692.94 237.39,692.97 237.78,692.99 238.18,692.99 238.58,693.00 238.97,693.00 239.37,693.00 239.77,693.00 240.16,693.00 240.56,693.00 240.96,693.00 241.35,693.00 241.75,693.00 242.15,693.00 242.54,693.00 242.94,693.00 243.34,693.00 243.73,693.00 244.13,693.00 244.53,693.00 244.92,693.00 245.32,693.00 245.72,693.00 246.11,693.00 246.51,693.00 246.91,693.00 247.30,693.00 247.70,693.00" fill="none" stroke="#111" stroke-width="1.3"/>
<text x="198.2" y="648.2" font-family='"Liberation Sans", sans-serif' font-size="2.7" font-weight="bold" fill="#333" text-anchor="end">100</text>
<text x="198.2" y="657.3" font-family='"Liberation Sans", sans-serif' font-size="2.7" font-weight="bold" fill="#333" text-anchor="end">80</text>
<text x="198.2" y="666.5" font-family='"Liberation Sans", sans-serif' font-size="2.7" font-weight="bold" fill="#333" text-anchor="end">60</text>
<text x="198.2" y="675.6" font-family='"Liberation Sans", sans-serif' font-size="2.7" font-weight="bold" fill="#333" text-anchor="end">40</text>
<text x="198.2" y="684.8" font-family='"Liberation Sans", sans-serif' font-size="2.7" font-weight="bold" fill="#333" text-anchor="end">20</text>
<text x="198.2" y="693.9" font-family='"Liberation Sans", sans-serif' font-size="2.7" font-weight="bold" fill="#333" text-anchor="end">0</text>
<text x="207.3" y="697.6" font-family='"Liberation Sans", sans-serif' font-size="2.7" fill="#666" text-anchor="middle">0 10²</text>
<text x="218.8" y="697.6" font-family='"Liberation Sans", sans-serif' font-size="2.7" fill="#666" text-anchor="middle">10³</text>
<text x="230.2" y="697.6" font-family='"Liberation Sans", sans-serif' font-size="2.7" fill="#666" text-anchor="middle">10⁴</text>
<text x="241.7" y="697.6" font-family='"Liberation Sans", sans-serif' font-size="2.7" fill="#666" text-anchor="middle">10⁵</text>
<path d="M213.3 672.9H244.9 M213.3 671.6V674.2 M244.9 671.6V674.2" stroke="#333" stroke-width="0.7"/>
<text x="229.1" y="671.9" font-family='"Liberation Sans", sans-serif' font-size="4.9" font-weight="bold" fill="#000" text-anchor="middle">96.9</text>
<text x="209.9" y="633.5" font-family='"Liberation Sans", sans-serif' font-size="12" fill="#111">T<tspan font-size="8.4" dy="4.5">(TCM)</tspan></text>
<path d="M22 700.8V676.5 M22 700.8H218" stroke="#111" stroke-width="1.3" fill="none"/>
<path d="M22 671.2L19.4 677.4H24.6Z M224 701.2L217.3 698.6V703.8Z" fill="#111"/>
<text transform="translate(26.1,658.8) rotate(-90)" font-family='"Liberation Sans", sans-serif' font-size="8.4" fill="#111" text-anchor="middle">% Max</text>
<text x="225.8" y="705.8" font-family='"Liberation Sans", sans-serif' font-size="8.5" fill="#111">CD95</text>
<path d="M338.6 634.3V697.1 H403.7"  stroke="#111" stroke-width="1.1" fill="none"/>
<text x="336.0" y="699.7" font-family='"Liberation Sans", sans-serif' font-size="5" font-weight="bold" fill="#222" text-anchor="end">0</text>
<text x="336.0" y="687.2" font-family='"Liberation Sans", sans-serif' font-size="5" font-weight="bold" fill="#222" text-anchor="end">20</text>
<text x="336.0" y="674.7" font-family='"Liberation Sans", sans-serif' font-size="5" font-weight="bold" fill="#222" text-anchor="end">40</text>
<text x="336.0" y="662.2" font-family='"Liberation Sans", sans-serif' font-size="5" font-weight="bold" fill="#222" text-anchor="end">60</text>
<text x="336.0" y="649.7" font-family='"Liberation Sans", sans-serif' font-size="5" font-weight="bold" fill="#222" text-anchor="end">80</text>
<text x="336.0" y="637.2" font-family='"Liberation Sans", sans-serif' font-size="5" font-weight="bold" fill="#222" text-anchor="end">100</text>
<path d="M336.4 697.1H338.6 M336.4 684.6H338.6 M336.4 672.1H338.6 M336.4 659.6H338.6 M336.4 647.1H338.6 M336.4 634.6H338.6 M347.0 697.1V699.1 M363.4 697.1V699.1 M380.0 697.1V699.1 M399.0 697.1V699.1" stroke="#111" stroke-width="0.9"/>
<text x="348.0" y="704.6" font-family='"Liberation Sans", sans-serif' font-size="5.6" font-weight="bold" fill="#222" text-anchor="middle">T<tspan font-size="3.4" dy="1.2">N</tspan></text>
<text x="364.4" y="704.6" font-family='"Liberation Sans", sans-serif' font-size="5.6" font-weight="bold" fill="#222" text-anchor="middle">T<tspan font-size="3.4" dy="1.2">(TN)</tspan></text>
<text x="381.0" y="704.6" font-family='"Liberation Sans", sans-serif' font-size="5.6" font-weight="bold" fill="#222" text-anchor="middle">T<tspan font-size="3.4" dy="1.2">CM</tspan></text>
<text x="400.0" y="704.6" font-family='"Liberation Sans", sans-serif' font-size="5.6" font-weight="bold" fill="#222" text-anchor="middle">T<tspan font-size="3.4" dy="1.2">(TCM)</tspan></text>
<path d="M347.4 621.4H364.9 M347.4 626.4H381.7 M347.4 630.6H399" stroke="#111" stroke-width="0.9"/>
<circle cx="353.5" cy="619.4" r="1.05" fill="#111"/>
<circle cx="356.8" cy="619.4" r="1.05" fill="#111"/>
<circle cx="360.1" cy="619.4" r="1.05" fill="#111"/>
<circle cx="359.6" cy="623.9" r="1.05" fill="#111"/>
<circle cx="362.9" cy="623.9" r="1.05" fill="#111"/>
<circle cx="366.2" cy="623.9" r="1.05" fill="#111"/>
<circle cx="369.7" cy="628.4" r="1.05" fill="#111"/>
<circle cx="373.0" cy="628.4" r="1.05" fill="#111"/>
<circle cx="376.3" cy="628.4" r="1.05" fill="#111"/>
<circle cx="343.8" cy="690.2" r="1.2" fill="#fff" stroke="#111" stroke-width="0.7"/>
<circle cx="346.0" cy="689.3" r="1.2" fill="#fff" stroke="#111" stroke-width="0.7"/>
<circle cx="348.6" cy="689.6" r="1.2" fill="#fff" stroke="#111" stroke-width="0.7"/>
<circle cx="350.8" cy="689.3" r="1.2" fill="#fff" stroke="#111" stroke-width="0.7"/>
<circle cx="347.4" cy="692.4" r="1.2" fill="#fff" stroke="#111" stroke-width="0.7"/>
<circle cx="345.4" cy="690.9" r="1.2" fill="#fff" stroke="#111" stroke-width="0.7"/>
<circle cx="349.8" cy="690.5" r="1.2" fill="#fff" stroke="#111" stroke-width="0.7"/>
<path d="M343.2 690.2H352" stroke="#111" stroke-width="0.8"/>
<path d="M361.6 634.8l1.4 1.4 -1.4 1.4 -1.4 -1.4Z" fill="#e0281e"/>
<path d="M363.4 633.2l1.4 1.4 -1.4 1.4 -1.4 -1.4Z" fill="#e0281e"/>
<path d="M365.6 632.5l1.4 1.4 -1.4 1.4 -1.4 -1.4Z" fill="#e0281e"/>
<path d="M367.8 634.0l1.4 1.4 -1.4 1.4 -1.4 -1.4Z" fill="#e0281e"/>
<path d="M362.8 636.6l1.4 1.4 -1.4 1.4 -1.4 -1.4Z" fill="#e0281e"/>
<path d="M365.0 635.4l1.4 1.4 -1.4 1.4 -1.4 -1.4Z" fill="#e0281e"/>
<path d="M367.2 636.4l1.4 1.4 -1.4 1.4 -1.4 -1.4Z" fill="#e0281e"/>
<path d="M364.2 638.8l1.4 1.4 -1.4 1.4 -1.4 -1.4Z" fill="#e0281e"/>
<path d="M366.2 639.2l1.4 1.4 -1.4 1.4 -1.4 -1.4Z" fill="#e0281e"/>
<path d="M368.6 635.2l1.4 1.4 -1.4 1.4 -1.4 -1.4Z" fill="#e0281e"/>
<path d="M360.5 637.2H369.5" stroke="#e0281e" stroke-width="0.9"/>
<path d="M384.2 640.3l1.4 2.4h-2.8Z" fill="#fff" stroke="#111" stroke-width="0.6"/>
<path d="M380.6 643.5l1.4 2.4h-2.8Z" fill="#fff" stroke="#111" stroke-width="0.6"/>
<path d="M382.6 642.7l1.4 2.4h-2.8Z" fill="#fff" stroke="#111" stroke-width="0.6"/>
<path d="M381.8 652.1l1.4 2.4h-2.8Z" fill="#fff" stroke="#111" stroke-width="0.6"/>
<path d="M377.6 646.4H386.4 M379.8 643.6H384 M379.8 649.2H384 M381.9 643.6V649.2" stroke="#111" stroke-width="0.85"/>
<path d="M394.6 635.0l1.4 1.4 -1.4 1.4 -1.4 -1.4Z" fill="#111"/>
<path d="M396.6 633.2l1.4 1.4 -1.4 1.4 -1.4 -1.4Z" fill="#111"/>
<path d="M398.8 632.5l1.4 1.4 -1.4 1.4 -1.4 -1.4Z" fill="#111"/>
<path d="M401.0 633.4l1.4 1.4 -1.4 1.4 -1.4 -1.4Z" fill="#111"/>
<path d="M402.8 634.8l1.4 1.4 -1.4 1.4 -1.4 -1.4Z" fill="#111"/>
<path d="M396.4 636.4l1.4 1.4 -1.4 1.4 -1.4 -1.4Z" fill="#111"/>
<path d="M398.6 635.6l1.4 1.4 -1.4 1.4 -1.4 -1.4Z" fill="#111"/>
<path d="M400.6 637.2l1.4 1.4 -1.4 1.4 -1.4 -1.4Z" fill="#111"/>
<path d="M398.2 638.6l1.4 1.4 -1.4 1.4 -1.4 -1.4Z" fill="#111"/>
<path d="M393.6 636.6H404" stroke="#111" stroke-width="0.9"/>
<text transform="translate(325.2,662.5) rotate(-90)" font-family='"Liberation Sans", sans-serif' font-size="6.5" fill="#000" stroke="#000" stroke-width="0.2" text-anchor="middle">% of CD95<tspan font-size="4" dy="-2.4">+</tspan><tspan dy="2.4"> CD8</tspan><tspan font-size="4" dy="-2.4">+</tspan><tspan dy="2.4"> T cells</tspan></text>
</svg>
</body></html>
